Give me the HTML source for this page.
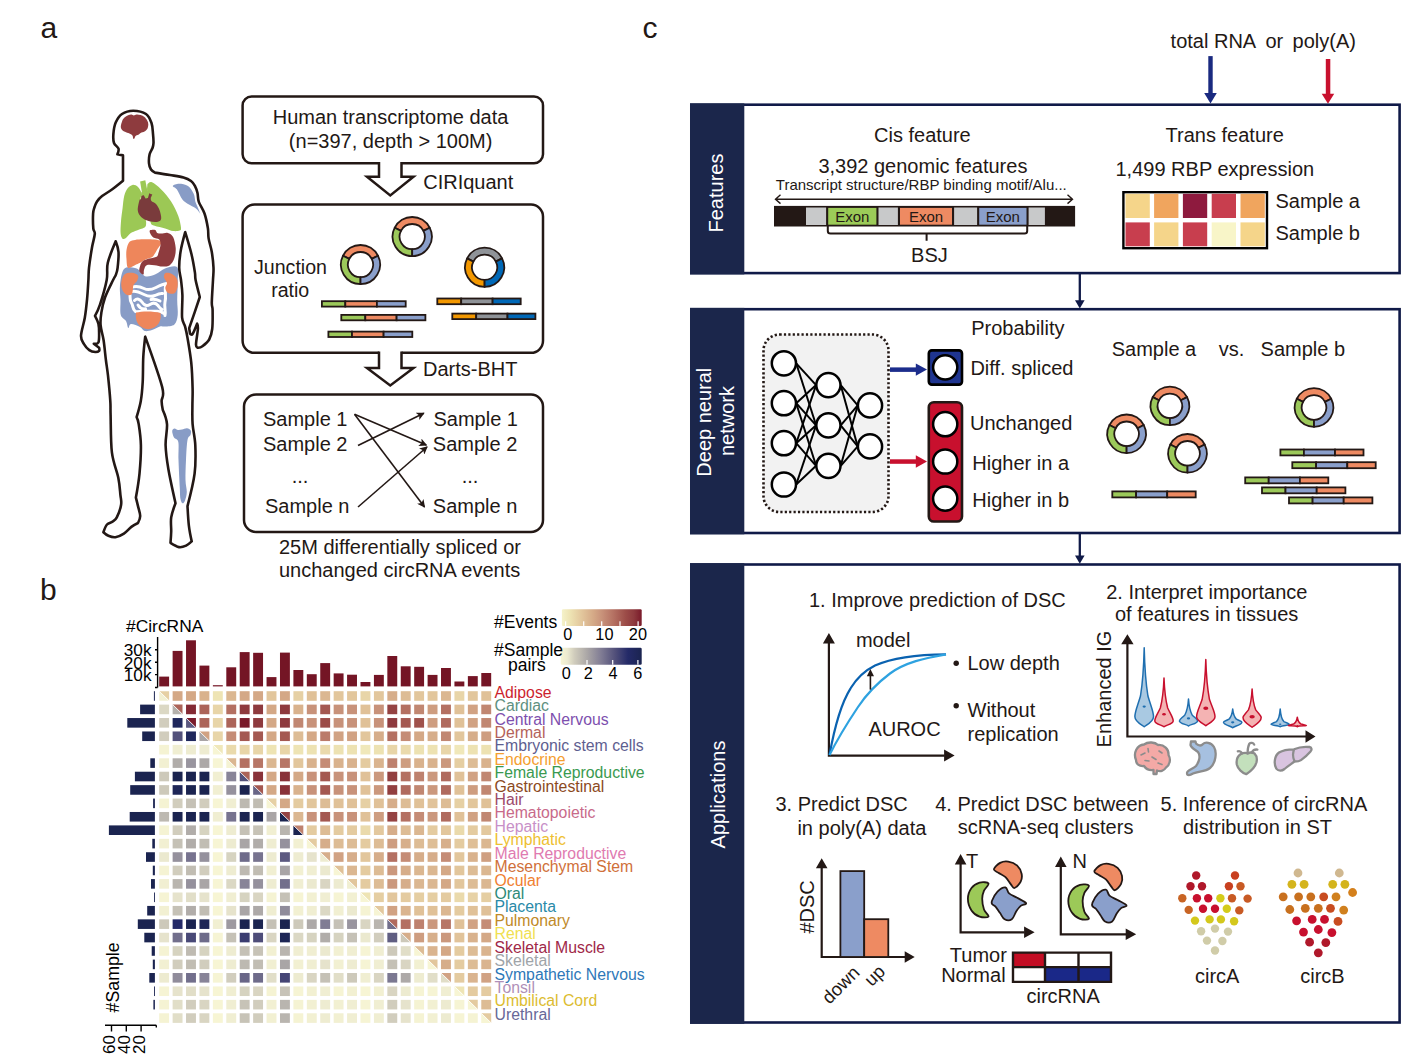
<!DOCTYPE html>
<html><head><meta charset="utf-8"><title>Figure</title>
<style>html,body{margin:0;padding:0;background:#fff;} svg{display:block;} text{font-family:"Liberation Sans", Arial, sans-serif;}</style>
</head><body>
<svg width="1426" height="1061" viewBox="0 0 1426 1061">
<rect width="1426" height="1061" fill="#fff"/>
<path d="M120.80,127.10 C120.73,125.50 121.58,122.58 122.20,121.00 C122.82,119.42 123.52,118.55 124.50,117.60 C125.48,116.65 126.93,115.80 128.10,115.30 C129.27,114.80 130.55,114.55 131.50,114.60 C132.45,114.65 132.97,115.60 133.80,115.60 C134.63,115.60 135.37,114.68 136.50,114.60 C137.63,114.52 139.27,114.70 140.60,115.10 C141.93,115.50 143.40,116.10 144.50,117.00 C145.60,117.90 146.57,119.28 147.20,120.50 C147.83,121.72 148.27,122.92 148.30,124.30 C148.33,125.68 148.03,127.58 147.40,128.80 C146.77,130.02 145.63,130.90 144.50,131.60 C143.37,132.30 141.63,132.47 140.60,133.00 C139.57,133.53 139.13,134.30 138.30,134.80 C137.47,135.30 136.25,135.37 135.60,136.00 C134.95,136.63 134.80,138.17 134.40,138.60 C134.00,139.03 133.50,139.07 133.20,138.60 C132.90,138.13 133.07,136.58 132.60,135.80 C132.13,135.02 131.50,134.48 130.40,133.90 C129.30,133.32 127.30,132.85 126.00,132.30 C124.70,131.75 123.47,131.47 122.60,130.60 C121.73,129.73 120.87,128.70 120.80,127.10 Z" fill="#8e3b3e"/>
<path d="M132.50,184.90 C130.75,185.15 128.88,186.63 127.50,188.50 C126.12,190.37 125.02,192.85 124.20,196.10 C123.38,199.35 123.13,203.82 122.60,208.00 C122.07,212.18 121.33,217.02 121.00,221.20 C120.67,225.38 120.38,230.22 120.60,233.10 C120.82,235.98 121.47,237.63 122.30,238.50 C123.13,239.37 124.18,239.20 125.60,238.30 C127.02,237.40 128.93,234.42 130.80,233.10 C132.67,231.78 134.60,231.28 136.80,230.40 C139.00,229.52 142.47,228.70 144.00,227.80 C145.53,226.90 145.75,226.47 146.00,225.00 C146.25,223.53 146.33,221.50 145.50,219.00 C144.67,216.50 141.80,213.48 141.00,210.00 C140.20,206.52 140.53,200.75 140.70,198.10 C140.87,195.45 142.45,195.95 142.00,194.10 C141.55,192.25 139.58,188.53 138.00,187.00 C136.42,185.47 134.25,184.65 132.50,184.90 Z" fill="#9cc855"/>
<path d="M148.00,183.60 C148.78,182.98 149.80,181.32 152.00,182.30 C154.20,183.28 158.02,186.32 161.20,189.50 C164.38,192.68 168.25,197.00 171.10,201.40 C173.95,205.80 176.65,211.50 178.30,215.90 C179.95,220.30 180.77,225.35 181.00,227.80 C181.23,230.25 181.02,230.05 179.70,230.60 C178.38,231.15 175.53,231.47 173.10,231.10 C170.67,230.73 168.18,229.28 165.10,228.40 C162.02,227.52 157.02,226.78 154.60,225.80 C152.18,224.82 151.37,225.13 150.60,222.50 C149.83,219.87 150.55,215.05 150.00,210.00 C149.45,204.95 147.75,196.20 147.30,192.20 C146.85,188.20 147.18,187.43 147.30,186.00 C147.42,184.57 147.22,184.22 148.00,183.60 Z" fill="#9cc855"/>
<path d="M140.1,181.5 L145.3,180.3 L148,194 L144.5,197.5 L142.5,196 Z" fill="#9cc855"/>
<path d="M141.5,192 L148.5,191 L149,199 L141,199.5 Z" fill="#9cc855"/>
<path d="M139.50,200.10 C138.98,202.00 137.48,207.75 137.80,210.60 C138.12,213.45 139.48,215.43 141.40,217.20 C143.32,218.97 146.55,220.43 149.30,221.20 C152.05,221.97 155.92,222.25 157.90,221.80 C159.88,221.35 160.93,220.47 161.20,218.50 C161.47,216.53 160.37,212.42 159.50,210.00 C158.63,207.58 157.35,205.50 156.00,204.00 C154.65,202.50 152.27,202.00 151.40,201.00 C150.53,200.00 150.80,198.00 150.80,198.00 C150.80,198.00 152.30,194.60 152.30,194.60 C152.30,194.60 149.30,193.30 149.30,193.30 C149.30,193.30 148.00,198.10 148.00,198.10 C148.00,198.10 145.60,198.60 145.60,198.60 C145.60,198.60 143.80,195.30 143.80,195.30 C143.80,195.30 141.40,195.90 141.40,195.90 C141.40,195.90 141.22,198.50 140.90,199.20 C140.58,199.90 140.02,198.20 139.50,200.10 Z" fill="#7a3b3c"/>
<path d="M172.80,185.90 C173.17,184.97 176.47,183.70 179.00,183.70 C181.53,183.70 185.55,184.22 188.00,185.90 C190.45,187.58 192.47,191.15 193.70,193.80 C194.93,196.45 194.78,199.68 195.40,201.80 C196.02,203.92 196.55,204.43 197.40,206.50 C198.25,208.57 200.50,214.20 200.50,214.20 C200.50,214.20 198.08,210.20 196.00,208.50 C193.92,206.80 190.27,205.50 188.00,204.00 C185.73,202.50 184.27,201.95 182.40,199.50 C180.53,197.05 178.40,191.57 176.80,189.30 C175.20,187.03 172.43,186.83 172.80,185.90 Z" fill="#889cc6"/>
<path d="M124.00,269.00 C126.50,266.17 132.33,267.67 135.00,268.00 C137.67,268.33 138.17,269.58 140.00,271.00 C141.83,272.42 143.33,276.00 146.00,276.50 C148.67,277.00 152.83,275.33 156.00,274.00 C159.17,272.67 161.50,269.67 165.00,268.50 C168.50,267.33 174.87,265.08 177.00,267.00 C179.13,268.92 177.77,274.50 177.80,280.00 C177.83,285.50 177.22,294.17 177.20,300.00 C177.18,305.83 178.17,310.93 177.70,315.00 C177.23,319.07 176.52,322.48 174.40,324.40 C172.28,326.32 167.42,326.17 165.00,326.50 C162.58,326.83 162.07,325.82 159.90,326.40 C157.73,326.98 154.53,329.23 152.00,330.00 C149.47,330.77 146.70,331.50 144.70,331.00 C142.70,330.50 142.28,328.17 140.00,327.00 C137.72,325.83 132.95,323.83 131.00,324.00 C129.05,324.17 129.13,328.50 128.30,328.00 C127.47,327.50 127.25,323.17 126.00,321.00 C124.75,318.83 121.72,318.50 120.80,315.00 C119.88,311.50 120.63,305.00 120.50,300.00 C120.37,295.00 119.42,290.17 120.00,285.00 C120.58,279.83 121.50,271.83 124.00,269.00 Z" fill="#889cc6"/>
<path d="M131,287.5 C136,285.5 140,286.5 144,288.5 C148,290.5 152,289.5 156,287.5 C160,285.5 163,284 166.5,283.5 M132,291.5 C136,290.5 140,292.5 144,294.5 C148,296.5 151,297 155,295.5 C158,294 160,293 162.5,293.5 M129.5,293 C131,297 129,300 131.5,303 C133.5,306 132,309 135.5,311.5 M165.5,286 C164.5,292 166.5,297 165,302 C164,307 166,311 165,315.5 M134.5,300.5 C137,298 140,299 142,302 C144,305 147,306.5 150,304.5 C153,302.5 156,303 158,305.5 C159.5,307.5 160.5,309 162,309.5 M136.5,311.8 C142,310.8 150,311.5 157,311.2 C160,311 162,312 164,313.5 M138,305 C139.5,307.5 142,309.5 145.5,308.8 M151,299.5 C154,299 157,299.5 160,301" fill="none" stroke="#fff" stroke-width="3" stroke-linecap="round" stroke-linejoin="round"/>
<path d="M125.00,274.00 C126.75,272.63 129.83,272.55 132.00,272.80 C134.17,273.05 137.17,274.13 138.00,275.50 C138.83,276.87 137.75,279.42 137.00,281.00 C136.25,282.58 134.20,283.50 133.50,285.00 C132.80,286.50 133.13,288.42 132.80,290.00 C132.47,291.58 132.63,293.75 131.50,294.50 C130.37,295.25 127.58,295.42 126.00,294.50 C124.42,293.58 122.75,291.25 122.00,289.00 C121.25,286.75 121.00,283.50 121.50,281.00 C122.00,278.50 123.25,275.37 125.00,274.00 Z" fill="#ee865b"/>
<path d="M165.50,273.00 C166.83,272.42 170.08,273.00 172.00,274.00 C173.92,275.00 176.08,276.83 177.00,279.00 C177.92,281.17 177.92,284.63 177.50,287.00 C177.08,289.37 176.08,292.20 174.50,293.20 C172.92,294.20 169.53,293.87 168.00,293.00 C166.47,292.13 165.47,289.67 165.30,288.00 C165.13,286.33 167.22,284.75 167.00,283.00 C166.78,281.25 164.25,279.17 164.00,277.50 C163.75,275.83 164.17,273.58 165.50,273.00 Z" fill="#ee865b"/>
<path d="M136,312.6 C142,311 154,311 160.5,313 C162,320 158,328.5 148.5,329.2 C139,329 134.5,321 136,312.6 Z" fill="#ee865b"/>
<path d="M129.00,242.50 C130.17,240.85 131.43,240.75 133.50,240.20 C135.57,239.65 137.88,239.32 141.40,239.20 C144.92,239.08 151.30,239.17 154.60,239.50 C157.90,239.83 160.22,240.32 161.20,241.20 C162.18,242.08 161.17,243.43 160.50,244.80 C159.83,246.17 158.18,247.87 157.20,249.40 C156.22,250.93 155.47,252.68 154.60,254.00 C153.73,255.32 153.43,256.42 152.00,257.30 C150.57,258.18 147.77,258.52 146.00,259.30 C144.23,260.08 143.05,261.12 141.40,262.00 C139.75,262.88 138.30,263.62 136.10,264.60 C133.90,265.58 129.80,268.78 128.20,267.90 C126.60,267.02 126.78,262.27 126.50,259.30 C126.22,256.33 126.08,252.90 126.50,250.10 C126.92,247.30 127.83,244.15 129.00,242.50 Z" fill="#ee865b"/>
<path d="M150.00,230.30 C150.82,229.68 154.00,229.47 155.20,229.90 C156.40,230.33 156.20,232.28 157.20,232.90 C158.20,233.52 159.43,233.60 161.20,233.60 C162.97,233.60 165.82,232.35 167.80,232.90 C169.78,233.45 171.78,234.37 173.10,236.90 C174.42,239.43 175.48,244.58 175.70,248.10 C175.92,251.62 175.38,255.15 174.40,258.00 C173.42,260.85 171.78,263.77 169.80,265.20 C167.82,266.63 165.03,266.60 162.50,266.60 C159.97,266.60 157.23,265.43 154.60,265.20 C151.97,264.97 148.47,264.42 146.70,265.20 C144.93,265.98 144.55,268.35 144.00,269.90 C143.45,271.45 144.17,274.28 143.40,274.50 C142.63,274.72 139.95,272.63 139.40,271.20 C138.85,269.77 139.55,267.55 140.10,265.90 C140.65,264.25 141.17,262.52 142.70,261.30 C144.23,260.08 146.98,259.37 149.30,258.60 C151.62,257.83 155.07,257.68 156.60,256.70 C158.13,255.72 157.85,254.68 158.50,252.70 C159.15,250.72 160.38,247.00 160.50,244.80 C160.62,242.60 160.40,240.72 159.20,239.50 C158.00,238.28 154.78,238.48 153.30,237.50 C151.82,236.52 150.85,234.80 150.30,233.60 C149.75,232.40 149.18,230.92 150.00,230.30 Z" fill="#8e3b3e"/>
<path d="M172.20,431.00 C172.28,429.52 173.53,428.77 174.50,428.60 C175.47,428.43 176.75,429.85 178.00,430.00 C179.25,430.15 180.50,429.80 182.00,429.50 C183.50,429.20 185.53,428.03 187.00,428.20 C188.47,428.37 190.22,429.37 190.80,430.50 C191.38,431.63 191.05,433.42 190.50,435.00 C189.95,436.58 188.25,435.83 187.50,440.00 C186.75,444.17 186.33,453.33 186.00,460.00 C185.67,466.67 185.37,474.67 185.50,480.00 C185.63,485.33 186.88,488.58 186.80,492.00 C186.72,495.42 185.70,498.62 185.00,500.50 C184.30,502.38 183.35,503.55 182.60,503.30 C181.85,503.05 180.97,501.55 180.50,499.00 C180.03,496.45 180.13,494.50 179.80,488.00 C179.47,481.50 178.75,467.67 178.50,460.00 C178.25,452.33 179.05,445.75 178.30,442.00 C177.55,438.25 175.02,439.33 174.00,437.50 C172.98,435.67 172.12,432.48 172.20,431.00 Z" fill="#889cc6"/>
<path d="M133.20,110.70 C137.20,110.70 142.95,111.95 146.00,114.00 C149.05,116.05 150.33,119.68 151.50,123.00 C152.67,126.32 152.67,130.57 153.00,133.90 C153.33,137.23 153.58,140.65 153.50,143.00 C153.42,145.35 153.15,146.12 152.50,148.00 C151.85,149.88 150.18,151.75 149.60,154.30 C149.02,156.85 148.77,160.77 149.00,163.30 C149.23,165.83 150.00,167.95 151.00,169.50 C152.00,171.05 155.00,172.60 155.00,172.60 C155.00,172.60 165.25,174.18 170.00,175.00 C174.75,175.82 180.00,176.50 183.50,177.50 C187.00,178.50 189.10,179.60 191.00,181.00 C192.90,182.40 193.82,183.90 194.90,185.90 C195.98,187.90 196.85,190.35 197.50,193.00 C198.15,195.65 197.63,198.38 198.80,201.80 C199.97,205.22 202.98,209.08 204.50,213.50 C206.02,217.92 207.22,224.15 207.90,228.30 C208.58,232.45 207.95,234.45 208.60,238.40 C209.25,242.35 210.98,247.10 211.80,252.00 C212.62,256.90 213.30,263.13 213.50,267.80 C213.70,272.47 213.28,274.20 213.00,280.00 C212.72,285.80 211.87,297.58 211.80,302.60 C211.73,307.62 212.53,305.70 212.60,310.10 C212.67,314.50 212.77,324.10 212.20,329.00 C211.63,333.90 210.83,336.62 209.20,339.50 C207.57,342.38 204.22,344.92 202.40,346.30 C200.58,347.68 198.30,347.80 198.30,347.80 C198.30,347.80 196.07,347.93 196.00,344.80 C195.93,341.67 197.72,332.52 197.90,329.00 C198.08,325.48 197.10,323.70 197.10,323.70 C197.10,323.70 193.78,332.27 192.60,333.90 C191.42,335.53 190.00,333.50 190.00,333.50 C190.00,333.50 189.20,328.20 189.20,328.20 C189.20,328.20 194.90,311.70 194.90,311.70 C194.90,311.70 199.80,297.00 199.80,297.00 C199.80,297.00 196.42,284.10 195.60,280.00 C194.78,275.90 195.58,276.68 194.90,272.40 C194.22,268.12 193.12,261.00 191.50,254.30 C189.88,247.60 185.20,232.20 185.20,232.20 C185.20,232.20 181.70,244.97 180.70,250.90 C179.70,256.83 179.15,262.95 179.20,267.80 C179.25,272.65 180.47,275.47 181.00,280.00 C181.53,284.53 182.22,288.72 182.40,295.00 C182.58,301.28 181.65,312.42 182.10,317.70 C182.55,322.98 184.20,323.33 185.10,326.70 C186.00,330.07 186.47,331.83 187.50,337.90 C188.53,343.97 190.45,354.68 191.30,363.10 C192.15,371.52 192.42,381.25 192.60,388.40 C192.78,395.55 192.40,400.05 192.40,406.00 C192.40,411.95 192.12,417.55 192.60,424.10 C193.08,430.65 194.97,437.05 195.30,445.30 C195.63,453.55 195.90,463.47 194.60,473.60 C193.30,483.73 187.50,506.10 187.50,506.10 C187.50,506.10 188.20,520.02 188.90,525.90 C189.60,531.78 191.70,541.40 191.70,541.40 C191.70,541.40 188.22,544.65 186.10,545.60 C183.98,546.55 181.60,547.57 179.00,547.10 C176.40,546.63 170.50,542.80 170.50,542.80 C170.50,542.80 171.08,535.73 171.20,531.50 C171.32,527.27 170.48,522.10 171.20,517.40 C171.92,512.70 175.50,503.30 175.50,503.30 C175.50,503.30 170.05,478.97 168.40,469.30 C166.75,459.63 165.83,452.83 165.60,445.30 C165.37,437.77 167.47,429.98 167.00,424.10 C166.53,418.22 162.80,410.00 162.80,410.00 C162.80,410.00 161.70,404.82 161.60,401.00 C161.50,397.18 164.93,397.83 162.20,387.10 C159.47,376.37 145.20,336.60 145.20,336.60 C145.20,336.60 143.72,349.23 143.30,356.80 C142.88,364.37 143.12,374.63 142.70,382.00 C142.28,389.37 141.82,395.15 140.80,401.00 C139.78,406.85 136.60,417.10 136.60,417.10 C136.60,417.10 137.98,419.40 138.70,424.10 C139.42,428.80 140.77,437.05 140.90,445.30 C141.03,453.55 140.33,464.88 139.50,473.60 C138.67,482.32 135.90,497.60 135.90,497.60 C135.90,497.60 137.28,503.03 138.00,506.10 C138.72,509.17 140.20,513.18 140.20,516.00 C140.20,518.82 138.00,523.00 138.00,523.00 C138.00,523.00 134.05,524.83 131.70,526.60 C129.35,528.37 126.62,531.83 123.90,533.60 C121.18,535.37 117.98,536.83 115.40,537.20 C112.82,537.57 110.40,536.63 108.40,535.80 C106.40,534.97 103.40,532.20 103.40,532.20 C103.40,532.20 105.47,526.27 107.00,524.50 C108.53,522.73 110.97,522.78 112.60,521.60 C114.23,520.42 115.38,520.22 116.80,517.40 C118.22,514.58 120.50,508.47 121.10,504.70 C121.70,500.93 120.87,499.28 120.40,494.80 C119.93,490.32 119.72,484.87 118.30,477.80 C116.88,470.73 113.18,462.87 111.90,452.40 C110.62,441.93 110.87,423.57 110.60,415.00 C110.33,406.43 110.73,407.55 110.30,401.00 C109.87,394.45 108.73,382.53 108.00,375.70 C107.27,368.87 106.63,365.90 105.90,360.00 C105.17,354.10 104.48,346.10 103.60,340.30 C102.72,334.50 100.97,329.85 100.60,325.20 C100.23,320.55 100.65,317.05 101.40,312.40 C102.15,307.75 103.15,302.70 105.10,297.30 C107.05,291.90 111.30,283.78 113.10,280.00 C114.90,276.22 115.15,276.63 115.90,274.60 C116.65,272.57 117.17,271.57 117.60,267.80 C118.03,264.03 118.82,256.42 118.50,252.00 C118.18,247.58 115.70,241.30 115.70,241.30 C115.70,241.30 109.30,256.35 107.80,262.80 C106.30,269.25 108.02,272.98 106.70,280.00 C105.38,287.02 101.85,298.93 99.90,304.90 C97.95,310.87 95.00,315.80 95.00,315.80 C95.00,315.80 97.72,320.87 98.40,323.70 C99.08,326.53 99.10,329.67 99.10,332.80 C99.10,335.93 99.28,340.68 98.40,342.50 C97.52,344.32 93.80,343.70 93.80,343.70 C93.80,343.70 99.10,347.80 99.10,347.80 C99.10,347.80 99.73,350.10 99.10,350.80 C98.47,351.50 96.93,352.12 95.30,352.00 C93.67,351.88 91.18,351.42 89.30,350.10 C87.42,348.78 85.38,346.48 84.00,344.10 C82.62,341.72 80.87,340.20 81.00,335.80 C81.13,331.40 83.78,323.87 84.80,317.70 C85.82,311.53 86.50,305.08 87.10,298.80 C87.70,292.52 88.08,285.17 88.40,280.00 C88.72,274.83 88.40,273.22 89.00,267.80 C89.60,262.38 91.03,253.15 92.00,247.50 C92.97,241.85 94.58,237.10 94.80,233.90 C95.02,230.70 93.58,231.68 93.30,228.30 C93.02,224.92 92.92,217.07 93.10,213.60 C93.28,210.13 93.75,209.52 94.40,207.50 C95.05,205.48 95.72,203.40 97.00,201.50 C98.28,199.60 99.55,198.13 102.10,196.10 C104.65,194.07 108.82,191.85 112.30,189.30 C115.78,186.75 123.00,180.80 123.00,180.80 C123.00,180.80 123.00,155.40 123.00,155.40 C123.00,155.40 117.40,154.30 117.40,154.30 C117.40,154.30 119.07,150.48 118.50,148.60 C117.93,146.72 114.85,145.45 114.00,143.00 C113.15,140.55 113.12,137.30 113.40,133.90 C113.68,130.50 114.27,125.92 115.70,122.60 C117.13,119.28 119.08,115.98 122.00,114.00 C124.92,112.02 129.20,110.70 133.20,110.70 Z" fill="none" stroke="#231815" stroke-width="2.6" stroke-linejoin="round"/>
<text x="40.50" y="37.50" font-size="30" text-anchor="start" fill="#231815" >a</text>
<rect x="242.6" y="96.5" width="300.4" height="66.80000000000001" rx="9" ry="9" fill="#fff" stroke="#231815" stroke-width="2.5"/>
<rect x="242.6" y="204.5" width="300.4" height="148.3" rx="12" ry="12" fill="#fff" stroke="#231815" stroke-width="2.5"/>
<rect x="244" y="394.5" width="299" height="137.5" rx="12" ry="12" fill="#fff" stroke="#231815" stroke-width="2.5"/>
<rect x="379" y="159" width="22.5" height="6" fill="#fff"/>
<path d="M379,162 L379,176.8 L367,176.8 L390.25,195.5 L413.5,176.8 L401.5,176.8 L401.5,162" fill="#fff" stroke="#231815" stroke-width="2.5" stroke-linejoin="miter"/>
<rect x="379" y="348.5" width="22.5" height="6" fill="#fff"/>
<path d="M379,351.5 L379,368 L367,368 L390.25,385.5 L413.5,368 L401.5,368 L401.5,351.5" fill="#fff" stroke="#231815" stroke-width="2.5" stroke-linejoin="miter"/>
<text x="390.60" y="123.80" font-size="20" text-anchor="middle" fill="#231815" >Human transcriptome data</text>
<text x="390.60" y="147.80" font-size="20" text-anchor="middle" fill="#231815" >(n=397, depth &gt; 100M)</text>
<text x="423.20" y="188.90" font-size="20" text-anchor="start" fill="#231815" >CIRIquant</text>
<text x="423.00" y="375.80" font-size="20" text-anchor="start" fill="#231815" >Darts-BHT</text>
<text x="254.00" y="273.70" font-size="19.6" text-anchor="start" fill="#231815" >Junction</text>
<text x="290.20" y="297.20" font-size="19.6" text-anchor="middle" fill="#231815" >ratio</text>
<path d="M377.96,255.70 A19.6,19.6 0 0 0 343.04,255.70 L349.27,258.88 A12.6,12.6 0 0 1 371.73,258.88 Z" fill="#ee8a62" stroke="#231815" stroke-width="1.8" stroke-linejoin="round"/>
<path d="M343.04,255.70 A19.6,19.6 0 0 0 360.50,284.20 L360.50,277.20 A12.6,12.6 0 0 1 349.27,258.88 Z" fill="#9cc95a" stroke="#231815" stroke-width="1.8" stroke-linejoin="round"/>
<path d="M360.50,284.20 A19.6,19.6 0 0 0 377.96,255.70 L371.73,258.88 A12.6,12.6 0 0 1 360.50,277.20 Z" fill="#8a9fcb" stroke="#231815" stroke-width="1.8" stroke-linejoin="round"/>
<path d="M429.66,227.70 A19.6,19.6 0 0 0 394.74,227.70 L400.97,230.88 A12.6,12.6 0 0 1 423.43,230.88 Z" fill="#ee8a62" stroke="#231815" stroke-width="1.8" stroke-linejoin="round"/>
<path d="M394.74,227.70 A19.6,19.6 0 0 0 412.20,256.20 L412.20,249.20 A12.6,12.6 0 0 1 400.97,230.88 Z" fill="#9cc95a" stroke="#231815" stroke-width="1.8" stroke-linejoin="round"/>
<path d="M412.20,256.20 A19.6,19.6 0 0 0 429.66,227.70 L423.43,230.88 A12.6,12.6 0 0 1 412.20,249.20 Z" fill="#8a9fcb" stroke="#231815" stroke-width="1.8" stroke-linejoin="round"/>
<path d="M502.06,258.40 A19.6,19.6 0 0 0 467.14,258.40 L473.37,261.58 A12.6,12.6 0 0 1 495.83,261.58 Z" fill="#8f9398" stroke="#231815" stroke-width="1.8" stroke-linejoin="round"/>
<path d="M467.14,258.40 A19.6,19.6 0 0 0 484.60,286.90 L484.60,279.90 A12.6,12.6 0 0 1 473.37,261.58 Z" fill="#f39800" stroke="#231815" stroke-width="1.8" stroke-linejoin="round"/>
<path d="M484.60,286.90 A19.6,19.6 0 0 0 502.06,258.40 L495.83,261.58 A12.6,12.6 0 0 1 484.60,279.90 Z" fill="#0068b7" stroke="#231815" stroke-width="1.8" stroke-linejoin="round"/>
<rect x="321.90" y="301.20" width="23.40" height="5.40" fill="#9cc95a" stroke="#231815" stroke-width="1.8"/>
<rect x="345.30" y="301.20" width="31.60" height="5.40" fill="#ee8a62" stroke="#231815" stroke-width="1.8"/>
<rect x="376.90" y="301.20" width="28.80" height="5.40" fill="#8a9fcb" stroke="#231815" stroke-width="1.8"/>
<rect x="341.30" y="314.90" width="24.00" height="5.40" fill="#9cc95a" stroke="#231815" stroke-width="1.8"/>
<rect x="365.30" y="314.90" width="31.30" height="5.40" fill="#ee8a62" stroke="#231815" stroke-width="1.8"/>
<rect x="396.60" y="314.90" width="28.80" height="5.40" fill="#8a9fcb" stroke="#231815" stroke-width="1.8"/>
<rect x="328.40" y="331.60" width="23.60" height="5.40" fill="#9cc95a" stroke="#231815" stroke-width="1.8"/>
<rect x="352.00" y="331.60" width="31.60" height="5.40" fill="#ee8a62" stroke="#231815" stroke-width="1.8"/>
<rect x="383.60" y="331.60" width="28.70" height="5.40" fill="#8a9fcb" stroke="#231815" stroke-width="1.8"/>
<rect x="437.30" y="298.50" width="23.90" height="5.70" fill="#f39800" stroke="#231815" stroke-width="1.8"/>
<rect x="461.20" y="298.50" width="31.40" height="5.70" fill="#8f9398" stroke="#231815" stroke-width="1.8"/>
<rect x="492.60" y="298.50" width="28.10" height="5.70" fill="#0068b7" stroke="#231815" stroke-width="1.8"/>
<rect x="452.30" y="313.60" width="23.90" height="5.50" fill="#f39800" stroke="#231815" stroke-width="1.8"/>
<rect x="476.20" y="313.60" width="31.30" height="5.50" fill="#8f9398" stroke="#231815" stroke-width="1.8"/>
<rect x="507.50" y="313.60" width="27.90" height="5.50" fill="#0068b7" stroke="#231815" stroke-width="1.8"/>
<text x="263.00" y="426.00" font-size="20" text-anchor="start" fill="#231815" >Sample 1</text>
<text x="263.00" y="451.25" font-size="20" text-anchor="start" fill="#231815" >Sample 2</text>
<text x="265.00" y="512.50" font-size="20" text-anchor="start" fill="#231815" >Sample n</text>
<text x="433.50" y="426.00" font-size="20" text-anchor="start" fill="#231815" >Sample 1</text>
<text x="432.80" y="451.25" font-size="20" text-anchor="start" fill="#231815" >Sample 2</text>
<text x="432.80" y="512.50" font-size="20" text-anchor="start" fill="#231815" >Sample n</text>
<text x="300.00" y="483.00" font-size="20" text-anchor="middle" fill="#231815" >...</text>
<text x="470.00" y="483.00" font-size="20" text-anchor="middle" fill="#231815" >...</text>
<defs><marker id="ah" markerWidth="8" markerHeight="8" refX="7" refY="4" orient="auto" markerUnits="userSpaceOnUse"><path d="M0,0 L8,4 L0,8 L2,4 Z" fill="#231815"/></marker></defs>
<line x1="354.5" y1="414.3" x2="426.3" y2="445" stroke="#231815" stroke-width="1.6" marker-end="url(#ah)"/>
<line x1="354.5" y1="414.3" x2="424.5" y2="507" stroke="#231815" stroke-width="1.6" marker-end="url(#ah)"/>
<line x1="358" y1="445.5" x2="423.8" y2="413.3" stroke="#231815" stroke-width="1.6" marker-end="url(#ah)"/>
<line x1="358" y1="507" x2="427" y2="447" stroke="#231815" stroke-width="1.6" marker-end="url(#ah)"/>
<text x="279.00" y="553.75" font-size="20" text-anchor="start" fill="#231815" >25M differentially spliced or</text>
<text x="279.00" y="577.00" font-size="20" text-anchor="start" fill="#231815" >unchanged circRNA events</text>
<text x="40.00" y="599.50" font-size="30" text-anchor="start" fill="#231815" >b</text>
<path d="M159.20,691.20 H169.10 V700.80 Z" fill="#e6d0a4"/><path d="M159.20,691.20 L169.10,700.80 H159.20 Z" fill="#f2f0d2"/><line x1="159.20" y1="691.20" x2="169.10" y2="700.80" stroke="#fff" stroke-width="0.8"/><rect x="172.62" y="691.20" width="9.9" height="9.6" fill="#d4a886"/><rect x="186.04" y="691.20" width="9.9" height="9.6" fill="#d4a886"/><rect x="199.46" y="691.20" width="9.9" height="9.6" fill="#d9b28d"/><rect x="212.88" y="691.20" width="9.9" height="9.6" fill="#eee4b4"/><rect x="226.30" y="691.20" width="9.9" height="9.6" fill="#dbb791"/><rect x="239.72" y="691.20" width="9.9" height="9.6" fill="#d4a886"/><rect x="253.14" y="691.20" width="9.9" height="9.6" fill="#d4a886"/><rect x="266.56" y="691.20" width="9.9" height="9.6" fill="#e2c69c"/><rect x="279.98" y="691.20" width="9.9" height="9.6" fill="#d4a886"/><rect x="293.40" y="691.20" width="9.9" height="9.6" fill="#e6d0a4"/><rect x="306.82" y="691.20" width="9.9" height="9.6" fill="#e0c198"/><rect x="320.24" y="691.20" width="9.9" height="9.6" fill="#dbb791"/><rect x="333.66" y="691.20" width="9.9" height="9.6" fill="#e2c69c"/><rect x="347.08" y="691.20" width="9.9" height="9.6" fill="#e2c69c"/><rect x="360.50" y="691.20" width="9.9" height="9.6" fill="#e8d5a8"/><rect x="373.92" y="691.20" width="9.9" height="9.6" fill="#e2c69c"/><rect x="387.34" y="691.20" width="9.9" height="9.6" fill="#d6ad8a"/><rect x="400.76" y="691.20" width="9.9" height="9.6" fill="#ddbc95"/><rect x="414.18" y="691.20" width="9.9" height="9.6" fill="#e2c69c"/><rect x="427.60" y="691.20" width="9.9" height="9.6" fill="#e2c69c"/><rect x="441.02" y="691.20" width="9.9" height="9.6" fill="#dbb791"/><rect x="454.44" y="691.20" width="9.9" height="9.6" fill="#e8d5a8"/><rect x="467.86" y="691.20" width="9.9" height="9.6" fill="#e2c69c"/><rect x="481.28" y="691.20" width="9.9" height="9.6" fill="#e0c198"/><rect x="159.20" y="704.62" width="9.9" height="9.6" fill="#dbd8c4"/><path d="M172.62,704.62 H182.52 V714.22 Z" fill="#ac6459"/><path d="M172.62,704.62 L182.52,714.22 H172.62 Z" fill="#b5b1ac"/><line x1="172.62" y1="704.62" x2="182.52" y2="714.22" stroke="#fff" stroke-width="0.8"/><rect x="186.04" y="704.62" width="9.9" height="9.6" fill="#842a34"/><rect x="199.46" y="704.62" width="9.9" height="9.6" fill="#ac6459"/><rect x="212.88" y="704.62" width="9.9" height="9.6" fill="#e8d5a8"/><rect x="226.30" y="704.62" width="9.9" height="9.6" fill="#b47062"/><rect x="239.72" y="704.62" width="9.9" height="9.6" fill="#8e3a3e"/><rect x="253.14" y="704.62" width="9.9" height="9.6" fill="#8e3a3e"/><rect x="266.56" y="704.62" width="9.9" height="9.6" fill="#d4a886"/><rect x="279.98" y="704.62" width="9.9" height="9.6" fill="#8e3a3e"/><rect x="293.40" y="704.62" width="9.9" height="9.6" fill="#d9b28d"/><rect x="306.82" y="704.62" width="9.9" height="9.6" fill="#c8927a"/><rect x="320.24" y="704.62" width="9.9" height="9.6" fill="#a45851"/><rect x="333.66" y="704.62" width="9.9" height="9.6" fill="#c8927a"/><rect x="347.08" y="704.62" width="9.9" height="9.6" fill="#c8927a"/><rect x="360.50" y="704.62" width="9.9" height="9.6" fill="#e0c198"/><rect x="373.92" y="704.62" width="9.9" height="9.6" fill="#c8927a"/><rect x="387.34" y="704.62" width="9.9" height="9.6" fill="#954343"/><rect x="400.76" y="704.62" width="9.9" height="9.6" fill="#b47062"/><rect x="414.18" y="704.62" width="9.9" height="9.6" fill="#c18772"/><rect x="427.60" y="704.62" width="9.9" height="9.6" fill="#ce9d80"/><rect x="441.02" y="704.62" width="9.9" height="9.6" fill="#b47062"/><rect x="454.44" y="704.62" width="9.9" height="9.6" fill="#e0c198"/><rect x="467.86" y="704.62" width="9.9" height="9.6" fill="#d1a283"/><rect x="481.28" y="704.62" width="9.9" height="9.6" fill="#c18772"/><rect x="159.20" y="718.04" width="9.9" height="9.6" fill="#d1cdbd"/><rect x="172.62" y="718.04" width="9.9" height="9.6" fill="#1f275c"/><path d="M186.04,718.04 H195.94 V727.64 Z" fill="#7a1a2a"/><path d="M186.04,718.04 L195.94,727.64 H186.04 Z" fill="#5c5980"/><line x1="186.04" y1="718.04" x2="195.94" y2="727.64" stroke="#fff" stroke-width="0.8"/><rect x="199.46" y="718.04" width="9.9" height="9.6" fill="#ac6459"/><rect x="212.88" y="718.04" width="9.9" height="9.6" fill="#e8d5a8"/><rect x="226.30" y="718.04" width="9.9" height="9.6" fill="#ac6459"/><rect x="239.72" y="718.04" width="9.9" height="9.6" fill="#7a1a2a"/><rect x="253.14" y="718.04" width="9.9" height="9.6" fill="#8e3a3e"/><rect x="266.56" y="718.04" width="9.9" height="9.6" fill="#d4a886"/><rect x="279.98" y="718.04" width="9.9" height="9.6" fill="#8e3a3e"/><rect x="293.40" y="718.04" width="9.9" height="9.6" fill="#c18772"/><rect x="306.82" y="718.04" width="9.9" height="9.6" fill="#c8927a"/><rect x="320.24" y="718.04" width="9.9" height="9.6" fill="#9c4c48"/><rect x="333.66" y="718.04" width="9.9" height="9.6" fill="#c8927a"/><rect x="347.08" y="718.04" width="9.9" height="9.6" fill="#c8927a"/><rect x="360.50" y="718.04" width="9.9" height="9.6" fill="#e0c198"/><rect x="373.92" y="718.04" width="9.9" height="9.6" fill="#c8927a"/><rect x="387.34" y="718.04" width="9.9" height="9.6" fill="#8e3a3e"/><rect x="400.76" y="718.04" width="9.9" height="9.6" fill="#a45851"/><rect x="414.18" y="718.04" width="9.9" height="9.6" fill="#a0524c"/><rect x="427.60" y="718.04" width="9.9" height="9.6" fill="#ce9d80"/><rect x="441.02" y="718.04" width="9.9" height="9.6" fill="#b06a5e"/><rect x="454.44" y="718.04" width="9.9" height="9.6" fill="#e0c198"/><rect x="467.86" y="718.04" width="9.9" height="9.6" fill="#d1a283"/><rect x="481.28" y="718.04" width="9.9" height="9.6" fill="#c18772"/><rect x="159.20" y="731.46" width="9.9" height="9.6" fill="#d1cdbd"/><rect x="172.62" y="731.46" width="9.9" height="9.6" fill="#53517b"/><rect x="186.04" y="731.46" width="9.9" height="9.6" fill="#1f275c"/><path d="M199.46,731.46 H209.36 V741.06 Z" fill="#d1a283"/><path d="M199.46,731.46 L209.36,741.06 H199.46 Z" fill="#a9a5a6"/><line x1="199.46" y1="731.46" x2="209.36" y2="741.06" stroke="#fff" stroke-width="0.8"/><rect x="212.88" y="731.46" width="9.9" height="9.6" fill="#e8d5a8"/><rect x="226.30" y="731.46" width="9.9" height="9.6" fill="#c58c76"/><rect x="239.72" y="731.46" width="9.9" height="9.6" fill="#a45851"/><rect x="253.14" y="731.46" width="9.9" height="9.6" fill="#a45851"/><rect x="266.56" y="731.46" width="9.9" height="9.6" fill="#d4a886"/><rect x="279.98" y="731.46" width="9.9" height="9.6" fill="#a45851"/><rect x="293.40" y="731.46" width="9.9" height="9.6" fill="#ddbc95"/><rect x="306.82" y="731.46" width="9.9" height="9.6" fill="#d4a886"/><rect x="320.24" y="731.46" width="9.9" height="9.6" fill="#bb7b6a"/><rect x="333.66" y="731.46" width="9.9" height="9.6" fill="#d1a283"/><rect x="347.08" y="731.46" width="9.9" height="9.6" fill="#d1a283"/><rect x="360.50" y="731.46" width="9.9" height="9.6" fill="#e2c69c"/><rect x="373.92" y="731.46" width="9.9" height="9.6" fill="#d6ad8a"/><rect x="387.34" y="731.46" width="9.9" height="9.6" fill="#b47062"/><rect x="400.76" y="731.46" width="9.9" height="9.6" fill="#c58c76"/><rect x="414.18" y="731.46" width="9.9" height="9.6" fill="#d4a886"/><rect x="427.60" y="731.46" width="9.9" height="9.6" fill="#d6ad8a"/><rect x="441.02" y="731.46" width="9.9" height="9.6" fill="#c18772"/><rect x="454.44" y="731.46" width="9.9" height="9.6" fill="#e2c69c"/><rect x="467.86" y="731.46" width="9.9" height="9.6" fill="#d6ad8a"/><rect x="481.28" y="731.46" width="9.9" height="9.6" fill="#ce9d80"/><rect x="159.20" y="744.88" width="9.9" height="9.6" fill="#f5f3d3"/><rect x="172.62" y="744.88" width="9.9" height="9.6" fill="#f0eed2"/><rect x="186.04" y="744.88" width="9.9" height="9.6" fill="#eeecd1"/><rect x="199.46" y="744.88" width="9.9" height="9.6" fill="#eeecd1"/><path d="M212.88,744.88 H222.78 V754.48 Z" fill="#f0e8ba"/><path d="M212.88,744.88 L222.78,754.48 H212.88 Z" fill="#f7f5d4"/><line x1="212.88" y1="744.88" x2="222.78" y2="754.48" stroke="#fff" stroke-width="0.8"/><rect x="226.30" y="744.88" width="9.9" height="9.6" fill="#eadaac"/><rect x="239.72" y="744.88" width="9.9" height="9.6" fill="#e8d5a8"/><rect x="253.14" y="744.88" width="9.9" height="9.6" fill="#e8d5a8"/><rect x="266.56" y="744.88" width="9.9" height="9.6" fill="#eee4b4"/><rect x="279.98" y="744.88" width="9.9" height="9.6" fill="#e8d5a8"/><rect x="293.40" y="744.88" width="9.9" height="9.6" fill="#eee4b4"/><rect x="306.82" y="744.88" width="9.9" height="9.6" fill="#ede2b2"/><rect x="320.24" y="744.88" width="9.9" height="9.6" fill="#eadaac"/><rect x="333.66" y="744.88" width="9.9" height="9.6" fill="#ede2b2"/><rect x="347.08" y="744.88" width="9.9" height="9.6" fill="#ede2b2"/><rect x="360.50" y="744.88" width="9.9" height="9.6" fill="#f0e8ba"/><rect x="373.92" y="744.88" width="9.9" height="9.6" fill="#ede2b2"/><rect x="387.34" y="744.88" width="9.9" height="9.6" fill="#e8d5a8"/><rect x="400.76" y="744.88" width="9.9" height="9.6" fill="#eadaac"/><rect x="414.18" y="744.88" width="9.9" height="9.6" fill="#ede2b2"/><rect x="427.60" y="744.88" width="9.9" height="9.6" fill="#ede2b2"/><rect x="441.02" y="744.88" width="9.9" height="9.6" fill="#e8d5a8"/><rect x="454.44" y="744.88" width="9.9" height="9.6" fill="#f0e8ba"/><rect x="467.86" y="744.88" width="9.9" height="9.6" fill="#ede2b2"/><rect x="481.28" y="744.88" width="9.9" height="9.6" fill="#ede2b2"/><rect x="159.20" y="758.30" width="9.9" height="9.6" fill="#f2f0d2"/><rect x="172.62" y="758.30" width="9.9" height="9.6" fill="#b1adaa"/><rect x="186.04" y="758.30" width="9.9" height="9.6" fill="#99959f"/><rect x="199.46" y="758.30" width="9.9" height="9.6" fill="#ada9a8"/><rect x="212.88" y="758.30" width="9.9" height="9.6" fill="#f7f5d4"/><path d="M226.30,758.30 H236.20 V767.90 Z" fill="#dbb791"/><path d="M226.30,758.30 L236.20,767.90 H226.30 Z" fill="#f5f3d3"/><line x1="226.30" y1="758.30" x2="236.20" y2="767.90" stroke="#fff" stroke-width="0.8"/><rect x="239.72" y="758.30" width="9.9" height="9.6" fill="#b47062"/><rect x="253.14" y="758.30" width="9.9" height="9.6" fill="#b77666"/><rect x="266.56" y="758.30" width="9.9" height="9.6" fill="#dbb791"/><rect x="279.98" y="758.30" width="9.9" height="9.6" fill="#b77666"/><rect x="293.40" y="758.30" width="9.9" height="9.6" fill="#e2c69c"/><rect x="306.82" y="758.30" width="9.9" height="9.6" fill="#d9b28d"/><rect x="320.24" y="758.30" width="9.9" height="9.6" fill="#c58c76"/><rect x="333.66" y="758.30" width="9.9" height="9.6" fill="#d9b28d"/><rect x="347.08" y="758.30" width="9.9" height="9.6" fill="#d9b28d"/><rect x="360.50" y="758.30" width="9.9" height="9.6" fill="#e4cba0"/><rect x="373.92" y="758.30" width="9.9" height="9.6" fill="#dab48f"/><rect x="387.34" y="758.30" width="9.9" height="9.6" fill="#be816e"/><rect x="400.76" y="758.30" width="9.9" height="9.6" fill="#ce9d80"/><rect x="414.18" y="758.30" width="9.9" height="9.6" fill="#d9b28d"/><rect x="427.60" y="758.30" width="9.9" height="9.6" fill="#d9b28d"/><rect x="441.02" y="758.30" width="9.9" height="9.6" fill="#cb987d"/><rect x="454.44" y="758.30" width="9.9" height="9.6" fill="#e5cea2"/><rect x="467.86" y="758.30" width="9.9" height="9.6" fill="#ddbc95"/><rect x="481.28" y="758.30" width="9.9" height="9.6" fill="#d9b28d"/><rect x="159.20" y="771.72" width="9.9" height="9.6" fill="#cdc9ba"/><rect x="172.62" y="771.72" width="9.9" height="9.6" fill="#1b2450"/><rect x="186.04" y="771.72" width="9.9" height="9.6" fill="#1b2450"/><rect x="199.46" y="771.72" width="9.9" height="9.6" fill="#1b2450"/><rect x="212.88" y="771.72" width="9.9" height="9.6" fill="#f1efd2"/><rect x="226.30" y="771.72" width="9.9" height="9.6" fill="#888498"/><path d="M239.72,771.72 H249.62 V781.32 Z" fill="#ac6459"/><path d="M239.72,771.72 L249.62,781.32 H239.72 Z" fill="#53517b"/><line x1="239.72" y1="771.72" x2="249.62" y2="781.32" stroke="#fff" stroke-width="0.8"/><rect x="253.14" y="771.72" width="9.9" height="9.6" fill="#893239"/><rect x="266.56" y="771.72" width="9.9" height="9.6" fill="#d4a886"/><rect x="279.98" y="771.72" width="9.9" height="9.6" fill="#893239"/><rect x="293.40" y="771.72" width="9.9" height="9.6" fill="#d4a886"/><rect x="306.82" y="771.72" width="9.9" height="9.6" fill="#c8927a"/><rect x="320.24" y="771.72" width="9.9" height="9.6" fill="#a45851"/><rect x="333.66" y="771.72" width="9.9" height="9.6" fill="#c8927a"/><rect x="347.08" y="771.72" width="9.9" height="9.6" fill="#c8927a"/><rect x="360.50" y="771.72" width="9.9" height="9.6" fill="#e0c198"/><rect x="373.92" y="771.72" width="9.9" height="9.6" fill="#cb987d"/><rect x="387.34" y="771.72" width="9.9" height="9.6" fill="#923f40"/><rect x="400.76" y="771.72" width="9.9" height="9.6" fill="#b47062"/><rect x="414.18" y="771.72" width="9.9" height="9.6" fill="#be816e"/><rect x="427.60" y="771.72" width="9.9" height="9.6" fill="#cb987d"/><rect x="441.02" y="771.72" width="9.9" height="9.6" fill="#b06a5e"/><rect x="454.44" y="771.72" width="9.9" height="9.6" fill="#e0c198"/><rect x="467.86" y="771.72" width="9.9" height="9.6" fill="#d1a283"/><rect x="481.28" y="771.72" width="9.9" height="9.6" fill="#c18772"/><rect x="159.20" y="785.14" width="9.9" height="9.6" fill="#cdc9ba"/><rect x="172.62" y="785.14" width="9.9" height="9.6" fill="#1e2657"/><rect x="186.04" y="785.14" width="9.9" height="9.6" fill="#1b2450"/><rect x="199.46" y="785.14" width="9.9" height="9.6" fill="#1b2450"/><rect x="212.88" y="785.14" width="9.9" height="9.6" fill="#f1efd2"/><rect x="226.30" y="785.14" width="9.9" height="9.6" fill="#95919d"/><rect x="239.72" y="785.14" width="9.9" height="9.6" fill="#1b2450"/><path d="M253.14,785.14 H263.04 V794.74 Z" fill="#a45851"/><path d="M253.14,785.14 L263.04,794.74 H253.14 Z" fill="#696687"/><line x1="253.14" y1="785.14" x2="263.04" y2="794.74" stroke="#fff" stroke-width="0.8"/><rect x="266.56" y="785.14" width="9.9" height="9.6" fill="#d4a886"/><rect x="279.98" y="785.14" width="9.9" height="9.6" fill="#893239"/><rect x="293.40" y="785.14" width="9.9" height="9.6" fill="#d9b28d"/><rect x="306.82" y="785.14" width="9.9" height="9.6" fill="#c8927a"/><rect x="320.24" y="785.14" width="9.9" height="9.6" fill="#a45851"/><rect x="333.66" y="785.14" width="9.9" height="9.6" fill="#c8927a"/><rect x="347.08" y="785.14" width="9.9" height="9.6" fill="#c8927a"/><rect x="360.50" y="785.14" width="9.9" height="9.6" fill="#e0c198"/><rect x="373.92" y="785.14" width="9.9" height="9.6" fill="#cb987d"/><rect x="387.34" y="785.14" width="9.9" height="9.6" fill="#923f40"/><rect x="400.76" y="785.14" width="9.9" height="9.6" fill="#b06a5e"/><rect x="414.18" y="785.14" width="9.9" height="9.6" fill="#c18772"/><rect x="427.60" y="785.14" width="9.9" height="9.6" fill="#cb987d"/><rect x="441.02" y="785.14" width="9.9" height="9.6" fill="#b06a5e"/><rect x="454.44" y="785.14" width="9.9" height="9.6" fill="#e0c198"/><rect x="467.86" y="785.14" width="9.9" height="9.6" fill="#ce9d80"/><rect x="481.28" y="785.14" width="9.9" height="9.6" fill="#c18772"/><rect x="159.20" y="798.56" width="9.9" height="9.6" fill="#f5f3d3"/><rect x="172.62" y="798.56" width="9.9" height="9.6" fill="#d1cdbd"/><rect x="186.04" y="798.56" width="9.9" height="9.6" fill="#c5c1b6"/><rect x="199.46" y="798.56" width="9.9" height="9.6" fill="#d1cdbd"/><rect x="212.88" y="798.56" width="9.9" height="9.6" fill="#f7f5d4"/><rect x="226.30" y="798.56" width="9.9" height="9.6" fill="#f0eed2"/><rect x="239.72" y="798.56" width="9.9" height="9.6" fill="#bdb9b1"/><rect x="253.14" y="798.56" width="9.9" height="9.6" fill="#c1bdb3"/><path d="M266.56,798.56 H276.46 V808.16 Z" fill="#e6d0a4"/><path d="M266.56,798.56 L276.46,808.16 H266.56 Z" fill="#f7f5d4"/><line x1="266.56" y1="798.56" x2="276.46" y2="808.16" stroke="#fff" stroke-width="0.8"/><rect x="279.98" y="798.56" width="9.9" height="9.6" fill="#d4a886"/><rect x="293.40" y="798.56" width="9.9" height="9.6" fill="#e4cba0"/><rect x="306.82" y="798.56" width="9.9" height="9.6" fill="#e2c69c"/><rect x="320.24" y="798.56" width="9.9" height="9.6" fill="#ddbc95"/><rect x="333.66" y="798.56" width="9.9" height="9.6" fill="#e0c198"/><rect x="347.08" y="798.56" width="9.9" height="9.6" fill="#e0c198"/><rect x="360.50" y="798.56" width="9.9" height="9.6" fill="#e6d0a4"/><rect x="373.92" y="798.56" width="9.9" height="9.6" fill="#e0c198"/><rect x="387.34" y="798.56" width="9.9" height="9.6" fill="#d6ad8a"/><rect x="400.76" y="798.56" width="9.9" height="9.6" fill="#ddbc95"/><rect x="414.18" y="798.56" width="9.9" height="9.6" fill="#e0c198"/><rect x="427.60" y="798.56" width="9.9" height="9.6" fill="#e1c39a"/><rect x="441.02" y="798.56" width="9.9" height="9.6" fill="#ddbc95"/><rect x="454.44" y="798.56" width="9.9" height="9.6" fill="#e6d0a4"/><rect x="467.86" y="798.56" width="9.9" height="9.6" fill="#e2c69c"/><rect x="481.28" y="798.56" width="9.9" height="9.6" fill="#e0c198"/><rect x="159.20" y="811.98" width="9.9" height="9.6" fill="#bdb9b1"/><rect x="172.62" y="811.98" width="9.9" height="9.6" fill="#1b2450"/><rect x="186.04" y="811.98" width="9.9" height="9.6" fill="#1b2450"/><rect x="199.46" y="811.98" width="9.9" height="9.6" fill="#1b2450"/><rect x="212.88" y="811.98" width="9.9" height="9.6" fill="#f0eed2"/><rect x="226.30" y="811.98" width="9.9" height="9.6" fill="#77738f"/><rect x="239.72" y="811.98" width="9.9" height="9.6" fill="#1b2450"/><rect x="253.14" y="811.98" width="9.9" height="9.6" fill="#1b2450"/><rect x="266.56" y="811.98" width="9.9" height="9.6" fill="#a9a5a6"/><path d="M279.98,811.98 H289.88 V821.58 Z" fill="#954343"/><path d="M279.98,811.98 L289.88,821.58 H279.98 Z" fill="#1b2450"/><line x1="279.98" y1="811.98" x2="289.88" y2="821.58" stroke="#fff" stroke-width="0.8"/><rect x="293.40" y="811.98" width="9.9" height="9.6" fill="#dbb791"/><rect x="306.82" y="811.98" width="9.9" height="9.6" fill="#c8927a"/><rect x="320.24" y="811.98" width="9.9" height="9.6" fill="#a45851"/><rect x="333.66" y="811.98" width="9.9" height="9.6" fill="#c8927a"/><rect x="347.08" y="811.98" width="9.9" height="9.6" fill="#c8927a"/><rect x="360.50" y="811.98" width="9.9" height="9.6" fill="#e0c198"/><rect x="373.92" y="811.98" width="9.9" height="9.6" fill="#ce9d80"/><rect x="387.34" y="811.98" width="9.9" height="9.6" fill="#954343"/><rect x="400.76" y="811.98" width="9.9" height="9.6" fill="#b47062"/><rect x="414.18" y="811.98" width="9.9" height="9.6" fill="#c58c76"/><rect x="427.60" y="811.98" width="9.9" height="9.6" fill="#cb987d"/><rect x="441.02" y="811.98" width="9.9" height="9.6" fill="#b06a5e"/><rect x="454.44" y="811.98" width="9.9" height="9.6" fill="#e0c198"/><rect x="467.86" y="811.98" width="9.9" height="9.6" fill="#d1a283"/><rect x="481.28" y="811.98" width="9.9" height="9.6" fill="#c18772"/><rect x="159.20" y="825.40" width="9.9" height="9.6" fill="#f5f3d3"/><rect x="172.62" y="825.40" width="9.9" height="9.6" fill="#d1cdbd"/><rect x="186.04" y="825.40" width="9.9" height="9.6" fill="#b1adaa"/><rect x="199.46" y="825.40" width="9.9" height="9.6" fill="#d6d3c0"/><rect x="212.88" y="825.40" width="9.9" height="9.6" fill="#f7f5d4"/><rect x="226.30" y="825.40" width="9.9" height="9.6" fill="#eeecd1"/><rect x="239.72" y="825.40" width="9.9" height="9.6" fill="#c5c1b6"/><rect x="253.14" y="825.40" width="9.9" height="9.6" fill="#c7c3b7"/><rect x="266.56" y="825.40" width="9.9" height="9.6" fill="#f1efd2"/><rect x="279.98" y="825.40" width="9.9" height="9.6" fill="#b9b5af"/><path d="M293.40,825.40 H303.30 V835.00 Z" fill="#be816e"/><path d="M293.40,825.40 L303.30,835.00 H293.40 Z" fill="#1b2450"/><line x1="293.40" y1="825.40" x2="303.30" y2="835.00" stroke="#fff" stroke-width="0.8"/><rect x="306.82" y="825.40" width="9.9" height="9.6" fill="#e4cba0"/><rect x="320.24" y="825.40" width="9.9" height="9.6" fill="#ddbc95"/><rect x="333.66" y="825.40" width="9.9" height="9.6" fill="#e4cba0"/><rect x="347.08" y="825.40" width="9.9" height="9.6" fill="#e4cba0"/><rect x="360.50" y="825.40" width="9.9" height="9.6" fill="#eadaac"/><rect x="373.92" y="825.40" width="9.9" height="9.6" fill="#e3c89e"/><rect x="387.34" y="825.40" width="9.9" height="9.6" fill="#d6ad8a"/><rect x="400.76" y="825.40" width="9.9" height="9.6" fill="#ddbc95"/><rect x="414.18" y="825.40" width="9.9" height="9.6" fill="#dbb791"/><rect x="427.60" y="825.40" width="9.9" height="9.6" fill="#e4cba0"/><rect x="441.02" y="825.40" width="9.9" height="9.6" fill="#e2c69c"/><rect x="454.44" y="825.40" width="9.9" height="9.6" fill="#eadaac"/><rect x="467.86" y="825.40" width="9.9" height="9.6" fill="#e4cba0"/><rect x="481.28" y="825.40" width="9.9" height="9.6" fill="#e3c89e"/><rect x="159.20" y="838.82" width="9.9" height="9.6" fill="#f2f0d2"/><rect x="172.62" y="838.82" width="9.9" height="9.6" fill="#c5c1b6"/><rect x="186.04" y="838.82" width="9.9" height="9.6" fill="#b1adaa"/><rect x="199.46" y="838.82" width="9.9" height="9.6" fill="#c1bdb3"/><rect x="212.88" y="838.82" width="9.9" height="9.6" fill="#f7f5d4"/><rect x="226.30" y="838.82" width="9.9" height="9.6" fill="#edebd0"/><rect x="239.72" y="838.82" width="9.9" height="9.6" fill="#a9a5a6"/><rect x="253.14" y="838.82" width="9.9" height="9.6" fill="#b1adaa"/><rect x="266.56" y="838.82" width="9.9" height="9.6" fill="#efedd1"/><rect x="279.98" y="838.82" width="9.9" height="9.6" fill="#95919d"/><rect x="293.40" y="838.82" width="9.9" height="9.6" fill="#f2f0d2"/><path d="M306.82,838.82 H316.72 V848.42 Z" fill="#e4cba0"/><path d="M306.82,838.82 L316.72,848.42 H306.82 Z" fill="#f7f5d4"/><line x1="306.82" y1="838.82" x2="316.72" y2="848.42" stroke="#fff" stroke-width="0.8"/><rect x="320.24" y="838.82" width="9.9" height="9.6" fill="#d6ad8a"/><rect x="333.66" y="838.82" width="9.9" height="9.6" fill="#ddbc95"/><rect x="347.08" y="838.82" width="9.9" height="9.6" fill="#ddbc95"/><rect x="360.50" y="838.82" width="9.9" height="9.6" fill="#e4cba0"/><rect x="373.92" y="838.82" width="9.9" height="9.6" fill="#ddbc95"/><rect x="387.34" y="838.82" width="9.9" height="9.6" fill="#ce9d80"/><rect x="400.76" y="838.82" width="9.9" height="9.6" fill="#d7af8b"/><rect x="414.18" y="838.82" width="9.9" height="9.6" fill="#ddbc95"/><rect x="427.60" y="838.82" width="9.9" height="9.6" fill="#debe96"/><rect x="441.02" y="838.82" width="9.9" height="9.6" fill="#d7af8b"/><rect x="454.44" y="838.82" width="9.9" height="9.6" fill="#e4cba0"/><rect x="467.86" y="838.82" width="9.9" height="9.6" fill="#dfbf97"/><rect x="481.28" y="838.82" width="9.9" height="9.6" fill="#dbb791"/><rect x="159.20" y="852.24" width="9.9" height="9.6" fill="#ebe9cf"/><rect x="172.62" y="852.24" width="9.9" height="9.6" fill="#95919d"/><rect x="186.04" y="852.24" width="9.9" height="9.6" fill="#77738f"/><rect x="199.46" y="852.24" width="9.9" height="9.6" fill="#95919d"/><rect x="212.88" y="852.24" width="9.9" height="9.6" fill="#f7f5d4"/><rect x="226.30" y="852.24" width="9.9" height="9.6" fill="#d6d3c0"/><rect x="239.72" y="852.24" width="9.9" height="9.6" fill="#6e6b8a"/><rect x="253.14" y="852.24" width="9.9" height="9.6" fill="#77738f"/><rect x="266.56" y="852.24" width="9.9" height="9.6" fill="#edebd0"/><rect x="279.98" y="852.24" width="9.9" height="9.6" fill="#5c5980"/><rect x="293.40" y="852.24" width="9.9" height="9.6" fill="#eeecd1"/><rect x="306.82" y="852.24" width="9.9" height="9.6" fill="#e6e3cc"/><path d="M320.24,852.24 H330.14 V861.84 Z" fill="#d6ad8a"/><path d="M320.24,852.24 L330.14,861.84 H320.24 Z" fill="#eeecd1"/><line x1="320.24" y1="852.24" x2="330.14" y2="861.84" stroke="#fff" stroke-width="0.8"/><rect x="333.66" y="852.24" width="9.9" height="9.6" fill="#d1a283"/><rect x="347.08" y="852.24" width="9.9" height="9.6" fill="#d6ad8a"/><rect x="360.50" y="852.24" width="9.9" height="9.6" fill="#e2c69c"/><rect x="373.92" y="852.24" width="9.9" height="9.6" fill="#d6ad8a"/><rect x="387.34" y="852.24" width="9.9" height="9.6" fill="#b47062"/><rect x="400.76" y="852.24" width="9.9" height="9.6" fill="#c58c76"/><rect x="414.18" y="852.24" width="9.9" height="9.6" fill="#d6ad8a"/><rect x="427.60" y="852.24" width="9.9" height="9.6" fill="#d6ad8a"/><rect x="441.02" y="852.24" width="9.9" height="9.6" fill="#c58c76"/><rect x="454.44" y="852.24" width="9.9" height="9.6" fill="#e2c69c"/><rect x="467.86" y="852.24" width="9.9" height="9.6" fill="#d9b28d"/><rect x="481.28" y="852.24" width="9.9" height="9.6" fill="#cf9f81"/><rect x="159.20" y="865.66" width="9.9" height="9.6" fill="#f5f3d3"/><rect x="172.62" y="865.66" width="9.9" height="9.6" fill="#d1cdbd"/><rect x="186.04" y="865.66" width="9.9" height="9.6" fill="#c1bdb3"/><rect x="199.46" y="865.66" width="9.9" height="9.6" fill="#d1cdbd"/><rect x="212.88" y="865.66" width="9.9" height="9.6" fill="#f7f5d4"/><rect x="226.30" y="865.66" width="9.9" height="9.6" fill="#eeecd1"/><rect x="239.72" y="865.66" width="9.9" height="9.6" fill="#bdb9b1"/><rect x="253.14" y="865.66" width="9.9" height="9.6" fill="#c1bdb3"/><rect x="266.56" y="865.66" width="9.9" height="9.6" fill="#f1efd2"/><rect x="279.98" y="865.66" width="9.9" height="9.6" fill="#a9a5a6"/><rect x="293.40" y="865.66" width="9.9" height="9.6" fill="#f2f0d2"/><rect x="306.82" y="865.66" width="9.9" height="9.6" fill="#f0eed2"/><rect x="320.24" y="865.66" width="9.9" height="9.6" fill="#ebe9cf"/><path d="M333.66,865.66 H343.56 V875.26 Z" fill="#e0c198"/><path d="M333.66,865.66 L343.56,875.26 H333.66 Z" fill="#f7f5d4"/><line x1="333.66" y1="865.66" x2="343.56" y2="875.26" stroke="#fff" stroke-width="0.8"/><rect x="347.08" y="865.66" width="9.9" height="9.6" fill="#dbb791"/><rect x="360.50" y="865.66" width="9.9" height="9.6" fill="#e4cba0"/><rect x="373.92" y="865.66" width="9.9" height="9.6" fill="#ddbc95"/><rect x="387.34" y="865.66" width="9.9" height="9.6" fill="#cb987d"/><rect x="400.76" y="865.66" width="9.9" height="9.6" fill="#d6ad8a"/><rect x="414.18" y="865.66" width="9.9" height="9.6" fill="#dbb791"/><rect x="427.60" y="865.66" width="9.9" height="9.6" fill="#dbb791"/><rect x="441.02" y="865.66" width="9.9" height="9.6" fill="#d4a886"/><rect x="454.44" y="865.66" width="9.9" height="9.6" fill="#e2c69c"/><rect x="467.86" y="865.66" width="9.9" height="9.6" fill="#ddbc95"/><rect x="481.28" y="865.66" width="9.9" height="9.6" fill="#dbb791"/><rect x="159.20" y="879.08" width="9.9" height="9.6" fill="#f1efd2"/><rect x="172.62" y="879.08" width="9.9" height="9.6" fill="#b9b5af"/><rect x="186.04" y="879.08" width="9.9" height="9.6" fill="#95919d"/><rect x="199.46" y="879.08" width="9.9" height="9.6" fill="#a9a5a6"/><rect x="212.88" y="879.08" width="9.9" height="9.6" fill="#f7f5d4"/><rect x="226.30" y="879.08" width="9.9" height="9.6" fill="#dbd8c4"/><rect x="239.72" y="879.08" width="9.9" height="9.6" fill="#888498"/><rect x="253.14" y="879.08" width="9.9" height="9.6" fill="#95919d"/><rect x="266.56" y="879.08" width="9.9" height="9.6" fill="#eeecd1"/><rect x="279.98" y="879.08" width="9.9" height="9.6" fill="#726f8c"/><rect x="293.40" y="879.08" width="9.9" height="9.6" fill="#f0eed2"/><rect x="306.82" y="879.08" width="9.9" height="9.6" fill="#ebe9cf"/><rect x="320.24" y="879.08" width="9.9" height="9.6" fill="#d9d5c2"/><rect x="333.66" y="879.08" width="9.9" height="9.6" fill="#edebd0"/><path d="M347.08,879.08 H356.98 V888.68 Z" fill="#e2c69c"/><path d="M347.08,879.08 L356.98,888.68 H347.08 Z" fill="#f1efd2"/><line x1="347.08" y1="879.08" x2="356.98" y2="888.68" stroke="#fff" stroke-width="0.8"/><rect x="360.50" y="879.08" width="9.9" height="9.6" fill="#e4cba0"/><rect x="373.92" y="879.08" width="9.9" height="9.6" fill="#ddbc95"/><rect x="387.34" y="879.08" width="9.9" height="9.6" fill="#cb987d"/><rect x="400.76" y="879.08" width="9.9" height="9.6" fill="#d6ad8a"/><rect x="414.18" y="879.08" width="9.9" height="9.6" fill="#dbb791"/><rect x="427.60" y="879.08" width="9.9" height="9.6" fill="#dbb791"/><rect x="441.02" y="879.08" width="9.9" height="9.6" fill="#d4a886"/><rect x="454.44" y="879.08" width="9.9" height="9.6" fill="#e2c69c"/><rect x="467.86" y="879.08" width="9.9" height="9.6" fill="#ddbc95"/><rect x="481.28" y="879.08" width="9.9" height="9.6" fill="#dbb791"/><rect x="159.20" y="892.50" width="9.9" height="9.6" fill="#f6f4d4"/><rect x="172.62" y="892.50" width="9.9" height="9.6" fill="#e6e3cc"/><rect x="186.04" y="892.50" width="9.9" height="9.6" fill="#e1dec8"/><rect x="199.46" y="892.50" width="9.9" height="9.6" fill="#e6e3cc"/><rect x="212.88" y="892.50" width="9.9" height="9.6" fill="#f7f5d4"/><rect x="226.30" y="892.50" width="9.9" height="9.6" fill="#f0eed2"/><rect x="239.72" y="892.50" width="9.9" height="9.6" fill="#d6d3c0"/><rect x="253.14" y="892.50" width="9.9" height="9.6" fill="#d9d5c2"/><rect x="266.56" y="892.50" width="9.9" height="9.6" fill="#f5f3d3"/><rect x="279.98" y="892.50" width="9.9" height="9.6" fill="#c5c1b6"/><rect x="293.40" y="892.50" width="9.9" height="9.6" fill="#f6f4d4"/><rect x="306.82" y="892.50" width="9.9" height="9.6" fill="#f2f0d2"/><rect x="320.24" y="892.50" width="9.9" height="9.6" fill="#f0eed2"/><rect x="333.66" y="892.50" width="9.9" height="9.6" fill="#f6f4d4"/><rect x="347.08" y="892.50" width="9.9" height="9.6" fill="#f2f0d2"/><path d="M360.50,892.50 H370.40 V902.10 Z" fill="#eee4b4"/><path d="M360.50,892.50 L370.40,902.10 H360.50 Z" fill="#f7f5d4"/><line x1="360.50" y1="892.50" x2="370.40" y2="902.10" stroke="#fff" stroke-width="0.8"/><rect x="373.92" y="892.50" width="9.9" height="9.6" fill="#e5cea2"/><rect x="387.34" y="892.50" width="9.9" height="9.6" fill="#e2c69c"/><rect x="400.76" y="892.50" width="9.9" height="9.6" fill="#e4cba0"/><rect x="414.18" y="892.50" width="9.9" height="9.6" fill="#e5cea2"/><rect x="427.60" y="892.50" width="9.9" height="9.6" fill="#e5cea2"/><rect x="441.02" y="892.50" width="9.9" height="9.6" fill="#e4cba0"/><rect x="454.44" y="892.50" width="9.9" height="9.6" fill="#eadaac"/><rect x="467.86" y="892.50" width="9.9" height="9.6" fill="#e7d2a6"/><rect x="481.28" y="892.50" width="9.9" height="9.6" fill="#e5cea2"/><rect x="159.20" y="905.92" width="9.9" height="9.6" fill="#f2f0d2"/><rect x="172.62" y="905.92" width="9.9" height="9.6" fill="#c5c1b6"/><rect x="186.04" y="905.92" width="9.9" height="9.6" fill="#b1adaa"/><rect x="199.46" y="905.92" width="9.9" height="9.6" fill="#c1bdb3"/><rect x="212.88" y="905.92" width="9.9" height="9.6" fill="#f7f5d4"/><rect x="226.30" y="905.92" width="9.9" height="9.6" fill="#e6e3cc"/><rect x="239.72" y="905.92" width="9.9" height="9.6" fill="#a9a5a6"/><rect x="253.14" y="905.92" width="9.9" height="9.6" fill="#ada9a8"/><rect x="266.56" y="905.92" width="9.9" height="9.6" fill="#efedd1"/><rect x="279.98" y="905.92" width="9.9" height="9.6" fill="#908c9b"/><rect x="293.40" y="905.92" width="9.9" height="9.6" fill="#f2f0d2"/><rect x="306.82" y="905.92" width="9.9" height="9.6" fill="#f0eed2"/><rect x="320.24" y="905.92" width="9.9" height="9.6" fill="#dbd8c4"/><rect x="333.66" y="905.92" width="9.9" height="9.6" fill="#f1efd2"/><rect x="347.08" y="905.92" width="9.9" height="9.6" fill="#ebe9cf"/><rect x="360.50" y="905.92" width="9.9" height="9.6" fill="#f5f3d3"/><path d="M373.92,905.92 H383.82 V915.52 Z" fill="#e3c89e"/><path d="M373.92,905.92 L383.82,915.52 H373.92 Z" fill="#f6f4d4"/><line x1="373.92" y1="905.92" x2="383.82" y2="915.52" stroke="#fff" stroke-width="0.8"/><rect x="387.34" y="905.92" width="9.9" height="9.6" fill="#d1a283"/><rect x="400.76" y="905.92" width="9.9" height="9.6" fill="#dab48f"/><rect x="414.18" y="905.92" width="9.9" height="9.6" fill="#e0c198"/><rect x="427.60" y="905.92" width="9.9" height="9.6" fill="#e0c198"/><rect x="441.02" y="905.92" width="9.9" height="9.6" fill="#dbb791"/><rect x="454.44" y="905.92" width="9.9" height="9.6" fill="#e4cba0"/><rect x="467.86" y="905.92" width="9.9" height="9.6" fill="#e0c198"/><rect x="481.28" y="905.92" width="9.9" height="9.6" fill="#dfc098"/><rect x="159.20" y="919.34" width="9.9" height="9.6" fill="#cdc9ba"/><rect x="172.62" y="919.34" width="9.9" height="9.6" fill="#242a68"/><rect x="186.04" y="919.34" width="9.9" height="9.6" fill="#1b2450"/><rect x="199.46" y="919.34" width="9.9" height="9.6" fill="#1e2657"/><rect x="212.88" y="919.34" width="9.9" height="9.6" fill="#f1efd2"/><rect x="226.30" y="919.34" width="9.9" height="9.6" fill="#9d99a0"/><rect x="239.72" y="919.34" width="9.9" height="9.6" fill="#1b2450"/><rect x="253.14" y="919.34" width="9.9" height="9.6" fill="#1b2450"/><rect x="266.56" y="919.34" width="9.9" height="9.6" fill="#c5c1b6"/><rect x="279.98" y="919.34" width="9.9" height="9.6" fill="#1b2450"/><rect x="293.40" y="919.34" width="9.9" height="9.6" fill="#cdc9ba"/><rect x="306.82" y="919.34" width="9.9" height="9.6" fill="#ada9a8"/><rect x="320.24" y="919.34" width="9.9" height="9.6" fill="#807c94"/><rect x="333.66" y="919.34" width="9.9" height="9.6" fill="#c5c1b6"/><rect x="347.08" y="919.34" width="9.9" height="9.6" fill="#99959f"/><rect x="360.50" y="919.34" width="9.9" height="9.6" fill="#d9d5c2"/><rect x="373.92" y="919.34" width="9.9" height="9.6" fill="#b9b5af"/><path d="M387.34,919.34 H397.24 V928.94 Z" fill="#b06a5e"/><path d="M387.34,919.34 L397.24,928.94 H387.34 Z" fill="#726f8c"/><line x1="387.34" y1="919.34" x2="397.24" y2="928.94" stroke="#fff" stroke-width="0.8"/><rect x="400.76" y="919.34" width="9.9" height="9.6" fill="#b47062"/><rect x="414.18" y="919.34" width="9.9" height="9.6" fill="#be816e"/><rect x="427.60" y="919.34" width="9.9" height="9.6" fill="#cb987d"/><rect x="441.02" y="919.34" width="9.9" height="9.6" fill="#b77666"/><rect x="454.44" y="919.34" width="9.9" height="9.6" fill="#e0c198"/><rect x="467.86" y="919.34" width="9.9" height="9.6" fill="#d1a283"/><rect x="481.28" y="919.34" width="9.9" height="9.6" fill="#c58c76"/><rect x="159.20" y="932.76" width="9.9" height="9.6" fill="#e6e3cc"/><rect x="172.62" y="932.76" width="9.9" height="9.6" fill="#726f8c"/><rect x="186.04" y="932.76" width="9.9" height="9.6" fill="#494977"/><rect x="199.46" y="932.76" width="9.9" height="9.6" fill="#6e6b8a"/><rect x="212.88" y="932.76" width="9.9" height="9.6" fill="#f6f4d4"/><rect x="226.30" y="932.76" width="9.9" height="9.6" fill="#c5c1b6"/><rect x="239.72" y="932.76" width="9.9" height="9.6" fill="#3b3d71"/><rect x="253.14" y="932.76" width="9.9" height="9.6" fill="#4e4d79"/><rect x="266.56" y="932.76" width="9.9" height="9.6" fill="#d9d5c2"/><rect x="279.98" y="932.76" width="9.9" height="9.6" fill="#1d2555"/><rect x="293.40" y="932.76" width="9.9" height="9.6" fill="#dbd8c4"/><rect x="306.82" y="932.76" width="9.9" height="9.6" fill="#d6d3c0"/><rect x="320.24" y="932.76" width="9.9" height="9.6" fill="#b1adaa"/><rect x="333.66" y="932.76" width="9.9" height="9.6" fill="#d6d3c0"/><rect x="347.08" y="932.76" width="9.9" height="9.6" fill="#c5c1b6"/><rect x="360.50" y="932.76" width="9.9" height="9.6" fill="#ebe9cf"/><rect x="373.92" y="932.76" width="9.9" height="9.6" fill="#d1cdbd"/><rect x="387.34" y="932.76" width="9.9" height="9.6" fill="#605e82"/><path d="M400.76,932.76 H410.66 V942.36 Z" fill="#d6ad8a"/><path d="M400.76,932.76 L410.66,942.36 H400.76 Z" fill="#cdc9ba"/><line x1="400.76" y1="932.76" x2="410.66" y2="942.36" stroke="#fff" stroke-width="0.8"/><rect x="414.18" y="932.76" width="9.9" height="9.6" fill="#ce9d80"/><rect x="427.60" y="932.76" width="9.9" height="9.6" fill="#d7af8b"/><rect x="441.02" y="932.76" width="9.9" height="9.6" fill="#cb987d"/><rect x="454.44" y="932.76" width="9.9" height="9.6" fill="#e1c39a"/><rect x="467.86" y="932.76" width="9.9" height="9.6" fill="#d9b28d"/><rect x="481.28" y="932.76" width="9.9" height="9.6" fill="#d4a886"/><rect x="159.20" y="946.18" width="9.9" height="9.6" fill="#f5f3d3"/><rect x="172.62" y="946.18" width="9.9" height="9.6" fill="#d6d3c0"/><rect x="186.04" y="946.18" width="9.9" height="9.6" fill="#bfbbb2"/><rect x="199.46" y="946.18" width="9.9" height="9.6" fill="#d6d3c0"/><rect x="212.88" y="946.18" width="9.9" height="9.6" fill="#f7f5d4"/><rect x="226.30" y="946.18" width="9.9" height="9.6" fill="#eeecd1"/><rect x="239.72" y="946.18" width="9.9" height="9.6" fill="#c5c1b6"/><rect x="253.14" y="946.18" width="9.9" height="9.6" fill="#c7c3b7"/><rect x="266.56" y="946.18" width="9.9" height="9.6" fill="#f2f0d2"/><rect x="279.98" y="946.18" width="9.9" height="9.6" fill="#b9b5af"/><rect x="293.40" y="946.18" width="9.9" height="9.6" fill="#f0eed2"/><rect x="306.82" y="946.18" width="9.9" height="9.6" fill="#f0eed2"/><rect x="320.24" y="946.18" width="9.9" height="9.6" fill="#ebe9cf"/><rect x="333.66" y="946.18" width="9.9" height="9.6" fill="#f2f0d2"/><rect x="347.08" y="946.18" width="9.9" height="9.6" fill="#f0eed2"/><rect x="360.50" y="946.18" width="9.9" height="9.6" fill="#f6f4d4"/><rect x="373.92" y="946.18" width="9.9" height="9.6" fill="#f0eed2"/><rect x="387.34" y="946.18" width="9.9" height="9.6" fill="#cdc9ba"/><rect x="400.76" y="946.18" width="9.9" height="9.6" fill="#e1dec8"/><path d="M414.18,946.18 H424.08 V955.78 Z" fill="#ddbc95"/><path d="M414.18,946.18 L424.08,955.78 H414.18 Z" fill="#f7f5d4"/><line x1="414.18" y1="946.18" x2="424.08" y2="955.78" stroke="#fff" stroke-width="0.8"/><rect x="427.60" y="946.18" width="9.9" height="9.6" fill="#dab48f"/><rect x="441.02" y="946.18" width="9.9" height="9.6" fill="#d4a886"/><rect x="454.44" y="946.18" width="9.9" height="9.6" fill="#e4cba0"/><rect x="467.86" y="946.18" width="9.9" height="9.6" fill="#ddbc95"/><rect x="481.28" y="946.18" width="9.9" height="9.6" fill="#dab48f"/><rect x="159.20" y="959.60" width="9.9" height="9.6" fill="#f2f0d2"/><rect x="172.62" y="959.60" width="9.9" height="9.6" fill="#d1cdbd"/><rect x="186.04" y="959.60" width="9.9" height="9.6" fill="#c1bdb3"/><rect x="199.46" y="959.60" width="9.9" height="9.6" fill="#d1cdbd"/><rect x="212.88" y="959.60" width="9.9" height="9.6" fill="#f7f5d4"/><rect x="226.30" y="959.60" width="9.9" height="9.6" fill="#eeecd1"/><rect x="239.72" y="959.60" width="9.9" height="9.6" fill="#bdb9b1"/><rect x="253.14" y="959.60" width="9.9" height="9.6" fill="#c1bdb3"/><rect x="266.56" y="959.60" width="9.9" height="9.6" fill="#f1efd2"/><rect x="279.98" y="959.60" width="9.9" height="9.6" fill="#a9a5a6"/><rect x="293.40" y="959.60" width="9.9" height="9.6" fill="#f2f0d2"/><rect x="306.82" y="959.60" width="9.9" height="9.6" fill="#f0eed2"/><rect x="320.24" y="959.60" width="9.9" height="9.6" fill="#e6e3cc"/><rect x="333.66" y="959.60" width="9.9" height="9.6" fill="#f2f0d2"/><rect x="347.08" y="959.60" width="9.9" height="9.6" fill="#eeecd1"/><rect x="360.50" y="959.60" width="9.9" height="9.6" fill="#f6f4d4"/><rect x="373.92" y="959.60" width="9.9" height="9.6" fill="#f0eed2"/><rect x="387.34" y="959.60" width="9.9" height="9.6" fill="#c5c1b6"/><rect x="400.76" y="959.60" width="9.9" height="9.6" fill="#d9d5c2"/><rect x="414.18" y="959.60" width="9.9" height="9.6" fill="#f2f0d2"/><path d="M427.60,959.60 H437.50 V969.20 Z" fill="#e2c69c"/><path d="M427.60,959.60 L437.50,969.20 H427.60 Z" fill="#f7f5d4"/><line x1="427.60" y1="959.60" x2="437.50" y2="969.20" stroke="#fff" stroke-width="0.8"/><rect x="441.02" y="959.60" width="9.9" height="9.6" fill="#d6ad8a"/><rect x="454.44" y="959.60" width="9.9" height="9.6" fill="#e4cba0"/><rect x="467.86" y="959.60" width="9.9" height="9.6" fill="#ddbc95"/><rect x="481.28" y="959.60" width="9.9" height="9.6" fill="#dab48f"/><rect x="159.20" y="973.02" width="9.9" height="9.6" fill="#edebd0"/><rect x="172.62" y="973.02" width="9.9" height="9.6" fill="#908c9b"/><rect x="186.04" y="973.02" width="9.9" height="9.6" fill="#726f8c"/><rect x="199.46" y="973.02" width="9.9" height="9.6" fill="#888498"/><rect x="212.88" y="973.02" width="9.9" height="9.6" fill="#f6f4d4"/><rect x="226.30" y="973.02" width="9.9" height="9.6" fill="#d1cdbd"/><rect x="239.72" y="973.02" width="9.9" height="9.6" fill="#696687"/><rect x="253.14" y="973.02" width="9.9" height="9.6" fill="#6e6b8a"/><rect x="266.56" y="973.02" width="9.9" height="9.6" fill="#e1dec8"/><rect x="279.98" y="973.02" width="9.9" height="9.6" fill="#454575"/><rect x="293.40" y="973.02" width="9.9" height="9.6" fill="#edebd0"/><rect x="306.82" y="973.02" width="9.9" height="9.6" fill="#d9d5c2"/><rect x="320.24" y="973.02" width="9.9" height="9.6" fill="#c5c1b6"/><rect x="333.66" y="973.02" width="9.9" height="9.6" fill="#e1dec8"/><rect x="347.08" y="973.02" width="9.9" height="9.6" fill="#cdc9ba"/><rect x="360.50" y="973.02" width="9.9" height="9.6" fill="#f0eed2"/><rect x="373.92" y="973.02" width="9.9" height="9.6" fill="#d9d5c2"/><rect x="387.34" y="973.02" width="9.9" height="9.6" fill="#7b7891"/><rect x="400.76" y="973.02" width="9.9" height="9.6" fill="#ada9a8"/><rect x="414.18" y="973.02" width="9.9" height="9.6" fill="#eeecd1"/><rect x="427.60" y="973.02" width="9.9" height="9.6" fill="#e1dec8"/><path d="M441.02,973.02 H450.92 V982.62 Z" fill="#d1a283"/><path d="M441.02,973.02 L450.92,982.62 H441.02 Z" fill="#e1dec8"/><line x1="441.02" y1="973.02" x2="450.92" y2="982.62" stroke="#fff" stroke-width="0.8"/><rect x="454.44" y="973.02" width="9.9" height="9.6" fill="#e4cba0"/><rect x="467.86" y="973.02" width="9.9" height="9.6" fill="#dab48f"/><rect x="481.28" y="973.02" width="9.9" height="9.6" fill="#d1a283"/><rect x="159.20" y="986.44" width="9.9" height="9.6" fill="#f6f4d4"/><rect x="172.62" y="986.44" width="9.9" height="9.6" fill="#e6e3cc"/><rect x="186.04" y="986.44" width="9.9" height="9.6" fill="#e1dec8"/><rect x="199.46" y="986.44" width="9.9" height="9.6" fill="#e6e3cc"/><rect x="212.88" y="986.44" width="9.9" height="9.6" fill="#f7f5d4"/><rect x="226.30" y="986.44" width="9.9" height="9.6" fill="#f0eed2"/><rect x="239.72" y="986.44" width="9.9" height="9.6" fill="#d6d3c0"/><rect x="253.14" y="986.44" width="9.9" height="9.6" fill="#d9d5c2"/><rect x="266.56" y="986.44" width="9.9" height="9.6" fill="#f5f3d3"/><rect x="279.98" y="986.44" width="9.9" height="9.6" fill="#c7c3b7"/><rect x="293.40" y="986.44" width="9.9" height="9.6" fill="#f6f4d4"/><rect x="306.82" y="986.44" width="9.9" height="9.6" fill="#f2f0d2"/><rect x="320.24" y="986.44" width="9.9" height="9.6" fill="#f0eed2"/><rect x="333.66" y="986.44" width="9.9" height="9.6" fill="#f6f4d4"/><rect x="347.08" y="986.44" width="9.9" height="9.6" fill="#f2f0d2"/><rect x="360.50" y="986.44" width="9.9" height="9.6" fill="#f7f5d4"/><rect x="373.92" y="986.44" width="9.9" height="9.6" fill="#f2f0d2"/><rect x="387.34" y="986.44" width="9.9" height="9.6" fill="#d9d5c2"/><rect x="400.76" y="986.44" width="9.9" height="9.6" fill="#edebd0"/><rect x="414.18" y="986.44" width="9.9" height="9.6" fill="#f6f4d4"/><rect x="427.60" y="986.44" width="9.9" height="9.6" fill="#f6f4d4"/><rect x="441.02" y="986.44" width="9.9" height="9.6" fill="#f0eed2"/><path d="M454.44,986.44 H464.34 V996.04 Z" fill="#eee4b4"/><path d="M454.44,986.44 L464.34,996.04 H454.44 Z" fill="#f7f5d4"/><line x1="454.44" y1="986.44" x2="464.34" y2="996.04" stroke="#fff" stroke-width="0.8"/><rect x="467.86" y="986.44" width="9.9" height="9.6" fill="#e4cba0"/><rect x="481.28" y="986.44" width="9.9" height="9.6" fill="#e4cba0"/><rect x="159.20" y="999.86" width="9.9" height="9.6" fill="#f5f3d3"/><rect x="172.62" y="999.86" width="9.9" height="9.6" fill="#e1dec8"/><rect x="186.04" y="999.86" width="9.9" height="9.6" fill="#d1cdbd"/><rect x="199.46" y="999.86" width="9.9" height="9.6" fill="#d9d5c2"/><rect x="212.88" y="999.86" width="9.9" height="9.6" fill="#f7f5d4"/><rect x="226.30" y="999.86" width="9.9" height="9.6" fill="#f0eed2"/><rect x="239.72" y="999.86" width="9.9" height="9.6" fill="#c7c3b7"/><rect x="253.14" y="999.86" width="9.9" height="9.6" fill="#d1cdbd"/><rect x="266.56" y="999.86" width="9.9" height="9.6" fill="#f2f0d2"/><rect x="279.98" y="999.86" width="9.9" height="9.6" fill="#b9b5af"/><rect x="293.40" y="999.86" width="9.9" height="9.6" fill="#f5f3d3"/><rect x="306.82" y="999.86" width="9.9" height="9.6" fill="#f2f0d2"/><rect x="320.24" y="999.86" width="9.9" height="9.6" fill="#eeecd1"/><rect x="333.66" y="999.86" width="9.9" height="9.6" fill="#f2f0d2"/><rect x="347.08" y="999.86" width="9.9" height="9.6" fill="#f0eed2"/><rect x="360.50" y="999.86" width="9.9" height="9.6" fill="#f6f4d4"/><rect x="373.92" y="999.86" width="9.9" height="9.6" fill="#f0eed2"/><rect x="387.34" y="999.86" width="9.9" height="9.6" fill="#d1cdbd"/><rect x="400.76" y="999.86" width="9.9" height="9.6" fill="#e6e3cc"/><rect x="414.18" y="999.86" width="9.9" height="9.6" fill="#f5f3d3"/><rect x="427.60" y="999.86" width="9.9" height="9.6" fill="#f2f0d2"/><rect x="441.02" y="999.86" width="9.9" height="9.6" fill="#edebd0"/><rect x="454.44" y="999.86" width="9.9" height="9.6" fill="#f6f4d4"/><path d="M467.86,999.86 H477.76 V1009.46 Z" fill="#e4cba0"/><path d="M467.86,999.86 L477.76,1009.46 H467.86 Z" fill="#f7f5d4"/><line x1="467.86" y1="999.86" x2="477.76" y2="1009.46" stroke="#fff" stroke-width="0.8"/><rect x="481.28" y="999.86" width="9.9" height="9.6" fill="#ddbc95"/><rect x="159.20" y="1013.28" width="9.9" height="9.6" fill="#f5f3d3"/><rect x="172.62" y="1013.28" width="9.9" height="9.6" fill="#e1dec8"/><rect x="186.04" y="1013.28" width="9.9" height="9.6" fill="#d1cdbd"/><rect x="199.46" y="1013.28" width="9.9" height="9.6" fill="#d9d5c2"/><rect x="212.88" y="1013.28" width="9.9" height="9.6" fill="#f7f5d4"/><rect x="226.30" y="1013.28" width="9.9" height="9.6" fill="#f0eed2"/><rect x="239.72" y="1013.28" width="9.9" height="9.6" fill="#c7c3b7"/><rect x="253.14" y="1013.28" width="9.9" height="9.6" fill="#d1cdbd"/><rect x="266.56" y="1013.28" width="9.9" height="9.6" fill="#f2f0d2"/><rect x="279.98" y="1013.28" width="9.9" height="9.6" fill="#b9b5af"/><rect x="293.40" y="1013.28" width="9.9" height="9.6" fill="#f5f3d3"/><rect x="306.82" y="1013.28" width="9.9" height="9.6" fill="#f2f0d2"/><rect x="320.24" y="1013.28" width="9.9" height="9.6" fill="#eeecd1"/><rect x="333.66" y="1013.28" width="9.9" height="9.6" fill="#f2f0d2"/><rect x="347.08" y="1013.28" width="9.9" height="9.6" fill="#f0eed2"/><rect x="360.50" y="1013.28" width="9.9" height="9.6" fill="#f6f4d4"/><rect x="373.92" y="1013.28" width="9.9" height="9.6" fill="#f0eed2"/><rect x="387.34" y="1013.28" width="9.9" height="9.6" fill="#d1cdbd"/><rect x="400.76" y="1013.28" width="9.9" height="9.6" fill="#e6e3cc"/><rect x="414.18" y="1013.28" width="9.9" height="9.6" fill="#f5f3d3"/><rect x="427.60" y="1013.28" width="9.9" height="9.6" fill="#f2f0d2"/><rect x="441.02" y="1013.28" width="9.9" height="9.6" fill="#edebd0"/><rect x="454.44" y="1013.28" width="9.9" height="9.6" fill="#f6f4d4"/><rect x="467.86" y="1013.28" width="9.9" height="9.6" fill="#f5f3d3"/><path d="M481.28,1013.28 H491.18 V1022.88 Z" fill="#e4cba0"/><path d="M481.28,1013.28 L491.18,1022.88 H481.28 Z" fill="#f7f5d4"/><line x1="481.28" y1="1013.28" x2="491.18" y2="1022.88" stroke="#fff" stroke-width="0.8"/>
<rect x="159.20" y="676.60" width="9.9" height="9.80" fill="#741525"/>
<rect x="172.62" y="650.90" width="9.9" height="35.50" fill="#741525"/>
<rect x="186.04" y="640.30" width="9.9" height="46.10" fill="#741525"/>
<rect x="199.46" y="665.60" width="9.9" height="20.80" fill="#741525"/>
<rect x="212.88" y="685.20" width="9.9" height="1.20" fill="#741525"/>
<rect x="226.30" y="667.30" width="9.9" height="19.10" fill="#741525"/>
<rect x="239.72" y="652.10" width="9.9" height="34.30" fill="#741525"/>
<rect x="253.14" y="652.80" width="9.9" height="33.60" fill="#741525"/>
<rect x="266.56" y="677.10" width="9.9" height="9.30" fill="#741525"/>
<rect x="279.98" y="652.60" width="9.9" height="33.80" fill="#741525"/>
<rect x="293.40" y="670.00" width="9.9" height="16.40" fill="#741525"/>
<rect x="306.82" y="674.20" width="9.9" height="12.20" fill="#741525"/>
<rect x="320.24" y="663.10" width="9.9" height="23.30" fill="#741525"/>
<rect x="333.66" y="673.40" width="9.9" height="13.00" fill="#741525"/>
<rect x="347.08" y="674.70" width="9.9" height="11.70" fill="#741525"/>
<rect x="360.50" y="682.00" width="9.9" height="4.40" fill="#741525"/>
<rect x="373.92" y="674.90" width="9.9" height="11.50" fill="#741525"/>
<rect x="387.34" y="656.00" width="9.9" height="30.40" fill="#741525"/>
<rect x="400.76" y="666.30" width="9.9" height="20.10" fill="#741525"/>
<rect x="414.18" y="666.80" width="9.9" height="19.60" fill="#741525"/>
<rect x="427.60" y="674.90" width="9.9" height="11.50" fill="#741525"/>
<rect x="441.02" y="668.00" width="9.9" height="18.40" fill="#741525"/>
<rect x="454.44" y="681.50" width="9.9" height="4.90" fill="#741525"/>
<rect x="467.86" y="676.10" width="9.9" height="10.30" fill="#741525"/>
<rect x="481.28" y="673.00" width="9.9" height="13.40" fill="#741525"/>
<path d="M157.6,637 V687.5 M155,649.7 H157.6 M155,662.2 H157.6 M155,674.6 H157.6 M155,687.5 H157.6" stroke="#000" stroke-width="1.4" fill="none"/>
<text x="151.50" y="655.70" font-size="17.2" text-anchor="end" fill="#000" >30k</text>
<text x="151.50" y="668.70" font-size="17.2" text-anchor="end" fill="#000" >20k</text>
<text x="151.50" y="680.80" font-size="17.2" text-anchor="end" fill="#000" >10k</text>
<text x="126.00" y="632.00" font-size="17.4" text-anchor="start" fill="#000" >#CircRNA</text>
<rect x="153.90" y="691.20" width="1.00" height="9.6" fill="#1b2450"/>
<rect x="140.10" y="704.62" width="14.80" height="9.6" fill="#1b2450"/>
<rect x="127.30" y="718.04" width="27.60" height="9.6" fill="#1b2450"/>
<rect x="142.20" y="731.46" width="12.70" height="9.6" fill="#1b2450"/>
<rect x="150.30" y="758.30" width="4.60" height="9.6" fill="#1b2450"/>
<rect x="134.90" y="771.72" width="20.00" height="9.6" fill="#1b2450"/>
<rect x="130.20" y="785.14" width="24.70" height="9.6" fill="#1b2450"/>
<rect x="153.10" y="798.56" width="1.80" height="9.6" fill="#1b2450"/>
<rect x="129.70" y="811.98" width="25.20" height="9.6" fill="#1b2450"/>
<rect x="108.90" y="825.40" width="46.00" height="9.6" fill="#1b2450"/>
<rect x="152.30" y="838.82" width="2.60" height="9.6" fill="#1b2450"/>
<rect x="146.00" y="852.24" width="8.90" height="9.6" fill="#1b2450"/>
<rect x="152.80" y="865.66" width="2.10" height="9.6" fill="#1b2450"/>
<rect x="151.00" y="879.08" width="3.90" height="9.6" fill="#1b2450"/>
<rect x="154.00" y="892.50" width="0.90" height="9.6" fill="#1b2450"/>
<rect x="147.20" y="905.92" width="7.70" height="9.6" fill="#1b2450"/>
<rect x="137.80" y="919.34" width="17.10" height="9.6" fill="#1b2450"/>
<rect x="144.30" y="932.76" width="10.60" height="9.6" fill="#1b2450"/>
<rect x="151.70" y="946.18" width="3.20" height="9.6" fill="#1b2450"/>
<rect x="152.80" y="959.60" width="2.10" height="9.6" fill="#1b2450"/>
<rect x="149.30" y="973.02" width="5.60" height="9.6" fill="#1b2450"/>
<rect x="154.00" y="986.44" width="0.90" height="9.6" fill="#1b2450"/>
<rect x="153.40" y="999.86" width="1.50" height="9.6" fill="#1b2450"/>
<path d="M105,1025.3 H156.3 M111.5,1025.3 V1031.6 M126.3,1025.3 V1031.6 M141.1,1025.3 V1031.6 M156.3,1025.3 V1027.5" stroke="#000" stroke-width="1.4" fill="none"/>
<text transform="translate(115,1035) rotate(-90)" font-size="17" text-anchor="end" fill="#000">60</text>
<text transform="translate(129.9,1035) rotate(-90)" font-size="17" text-anchor="end" fill="#000">40</text>
<text transform="translate(144.9,1035) rotate(-90)" font-size="17" text-anchor="end" fill="#000">20</text>
<text transform="translate(118.8,1012.5) rotate(-90)" font-size="17.8" text-anchor="start" fill="#000">#Sample</text>
<text x="494.50" y="697.70" font-size="15.8" text-anchor="start" fill="#cc1f2e" >Adipose</text>
<text x="494.50" y="711.12" font-size="15.8" text-anchor="start" fill="#5e9080" >Cardiac</text>
<text x="494.50" y="724.54" font-size="15.8" text-anchor="start" fill="#7d4fae" >Central Nervous</text>
<text x="494.50" y="737.96" font-size="15.8" text-anchor="start" fill="#b4625a" >Dermal</text>
<text x="494.50" y="751.38" font-size="15.8" text-anchor="start" fill="#5e5e90" >Embryonic stem cells</text>
<text x="494.50" y="764.80" font-size="15.8" text-anchor="start" fill="#f5a030" >Endocrine</text>
<text x="494.50" y="778.22" font-size="15.8" text-anchor="start" fill="#3a9a50" >Female Reproductive</text>
<text x="494.50" y="791.64" font-size="15.8" text-anchor="start" fill="#8c4a1e" >Gastrointestinal</text>
<text x="494.50" y="805.06" font-size="15.8" text-anchor="start" fill="#9c4a6a" >Hair</text>
<text x="494.50" y="818.48" font-size="15.8" text-anchor="start" fill="#c86a8a" >Hematopoietic</text>
<text x="494.50" y="831.90" font-size="15.8" text-anchor="start" fill="#c890c8" >Hepatic</text>
<text x="494.50" y="845.32" font-size="15.8" text-anchor="start" fill="#eec030" >Lymphatic</text>
<text x="494.50" y="858.74" font-size="15.8" text-anchor="start" fill="#e07ab0" >Male Reproductive</text>
<text x="494.50" y="872.16" font-size="15.8" text-anchor="start" fill="#d0703a" >Mesenchymal Stem</text>
<text x="494.50" y="885.58" font-size="15.8" text-anchor="start" fill="#f08030" >Ocular</text>
<text x="494.50" y="899.00" font-size="15.8" text-anchor="start" fill="#2e8a78" >Oral</text>
<text x="494.50" y="912.42" font-size="15.8" text-anchor="start" fill="#2a8aa8" >Placenta</text>
<text x="494.50" y="925.84" font-size="15.8" text-anchor="start" fill="#c08a28" >Pulmonary</text>
<text x="494.50" y="939.26" font-size="15.8" text-anchor="start" fill="#f0e050" >Renal</text>
<text x="494.50" y="952.68" font-size="15.8" text-anchor="start" fill="#a02848" >Skeletal Muscle</text>
<text x="494.50" y="966.10" font-size="15.8" text-anchor="start" fill="#a0a4a8" >Skeletal</text>
<text x="494.50" y="979.52" font-size="15.8" text-anchor="start" fill="#2e78b8" >Sympathetic Nervous</text>
<text x="494.50" y="992.94" font-size="15.8" text-anchor="start" fill="#b090b8" >Tonsil</text>
<text x="494.50" y="1006.36" font-size="15.8" text-anchor="start" fill="#dcbc30" >Umbilical Cord</text>
<text x="494.50" y="1019.78" font-size="15.8" text-anchor="start" fill="#686898" >Urethral</text>
<defs><linearGradient id="gE" x1="0" x2="1" y1="0" y2="0"><stop offset="0" stop-color="#f5f2ca"/><stop offset="0.1" stop-color="#eee4b4"/><stop offset="0.25" stop-color="#e2c69c"/><stop offset="0.4" stop-color="#d4a886"/><stop offset="0.5" stop-color="#c8927a"/><stop offset="0.65" stop-color="#b47062"/><stop offset="0.8" stop-color="#9c4c48"/><stop offset="0.9" stop-color="#8e3a3e"/><stop offset="1" stop-color="#7a1a2a"/></linearGradient><linearGradient id="gS" x1="0" x2="1" y1="0" y2="0"><stop offset="0" stop-color="#f7f5d4"/><stop offset="0.08" stop-color="#ecead0"/><stop offset="0.17" stop-color="#d0ccbc"/><stop offset="0.33" stop-color="#aaa6a6"/><stop offset="0.5" stop-color="#807c94"/><stop offset="0.67" stop-color="#52507a"/><stop offset="0.83" stop-color="#242a68"/><stop offset="1" stop-color="#1b2450"/></linearGradient></defs>
<rect x="561.9" y="609.3" width="79.8" height="16.6" rx="1.2" fill="url(#gE)"/>
<rect x="560.7" y="647.7" width="81" height="17" rx="1.2" fill="url(#gS)"/>
<rect x="565.0" y="621.3" width="1.2" height="4.6" fill="#fff"/>
<rect x="583.1" y="621.3" width="1.2" height="4.6" fill="#fff"/>
<rect x="601.1" y="621.3" width="1.2" height="4.6" fill="#fff"/>
<rect x="619.4" y="621.3" width="1.2" height="4.6" fill="#fff"/>
<rect x="637.5" y="621.3" width="1.2" height="4.6" fill="#fff"/>
<rect x="586.4" y="660" width="1.2" height="4.7" fill="#fff"/>
<rect x="612.1" y="660" width="1.2" height="4.7" fill="#fff"/>
<rect x="637.3" y="660" width="1.2" height="4.7" fill="#fff"/>
<text x="494.00" y="628.00" font-size="17.5" text-anchor="start" fill="#000" >#Events</text>
<text x="494.00" y="656.10" font-size="17.5" text-anchor="start" fill="#000" >#Sample</text>
<text x="526.90" y="671.10" font-size="17.5" text-anchor="middle" fill="#000" >pairs</text>
<text x="567.80" y="640.00" font-size="16.3" text-anchor="middle" fill="#000" >0</text>
<text x="604.40" y="640.00" font-size="16.3" text-anchor="middle" fill="#000" >10</text>
<text x="637.90" y="640.00" font-size="16.3" text-anchor="middle" fill="#000" >20</text>
<text x="566.30" y="678.80" font-size="16.3" text-anchor="middle" fill="#000" >0</text>
<text x="588.20" y="678.80" font-size="16.3" text-anchor="middle" fill="#000" >2</text>
<text x="613.00" y="678.80" font-size="16.3" text-anchor="middle" fill="#000" >4</text>
<text x="637.90" y="678.80" font-size="16.3" text-anchor="middle" fill="#000" >6</text>
<text x="642.50" y="38.00" font-size="30" text-anchor="start" fill="#231815" >c</text>
<text x="1170.60" y="47.70" font-size="20" text-anchor="start" fill="#231815" >total RNA</text>
<text x="1265.50" y="47.70" font-size="20" text-anchor="start" fill="#231815" >or</text>
<text x="1292.60" y="47.70" font-size="20" text-anchor="start" fill="#231815" >poly(A)</text>
<rect x="1208.3" y="56.1" width="4.4" height="38" fill="#1a2a80"/><path d="M1204.2,93 L1216.8,93 L1210.5,103.4 Z" fill="#1a2a80"/>
<rect x="1325.8" y="59" width="4.5" height="35" fill="#c8102e"/><path d="M1321.7,93.8 L1334.2,93.8 L1328,103.8 Z" fill="#c8102e"/>
<rect x="691.3" y="104.70" width="708.3" height="168.40" fill="#fff" stroke="#101a48" stroke-width="2.6"/>
<rect x="690" y="103.40" width="54.3" height="171.00" fill="#1b264b"/>
<rect x="691.3" y="309.20" width="708.3" height="223.80" fill="#fff" stroke="#101a48" stroke-width="2.6"/>
<rect x="690" y="307.90" width="54.3" height="226.40" fill="#1b264b"/>
<rect x="691.3" y="564.50" width="708.3" height="458.00" fill="#fff" stroke="#101a48" stroke-width="2.6"/>
<rect x="690" y="563.20" width="54.3" height="460.60" fill="#1b264b"/>
<text transform="translate(722.5,193) rotate(-90)" font-size="20" text-anchor="middle" fill="#fff">Features</text>
<text transform="translate(710.7,422.2) rotate(-90)" font-size="20" text-anchor="middle" fill="#fff">Deep neural</text>
<text transform="translate(734,421) rotate(-90)" font-size="20" text-anchor="middle" fill="#fff">network</text>
<text transform="translate(724.7,794.5) rotate(-90)" font-size="20" text-anchor="middle" fill="#fff">Applications</text>
<line x1="1079.8" y1="274" x2="1079.8" y2="301.2" stroke="#101a48" stroke-width="2.3"/><path d="M1075,300.2 L1084.6,300.2 L1079.8,308.4 Z" fill="#101a48"/>
<line x1="1079.8" y1="534" x2="1079.8" y2="556.5" stroke="#101a48" stroke-width="2.3"/><path d="M1075,555.5 L1084.6,555.5 L1079.8,563.7 Z" fill="#101a48"/>
<text x="922.40" y="142.00" font-size="20" text-anchor="middle" fill="#231815" >Cis feature</text>
<text x="922.90" y="172.60" font-size="20" text-anchor="middle" fill="#231815" >3,392 genomic features</text>
<text x="775.80" y="190.20" font-size="15" text-anchor="start" fill="#231815" >Transcript structure/RBP binding motif/Alu...</text>
<path d="M776,199.2 H1072.5 M780.5,194.8 L775.5,199.2 L780.5,203.6 M1067.5,194.8 L1072.5,199.2 L1067.5,203.6" fill="none" stroke="#231815" stroke-width="1.4"/>
<rect x="774" y="205.9" width="301.1" height="20.6" fill="#231815"/>
<rect x="806.0" y="207.5" width="20.1" height="17.5" fill="#c8c9ca"/>
<rect x="878.5" y="207.5" width="19.4" height="17.5" fill="#c8c9ca"/>
<rect x="954.1" y="207.5" width="23.0" height="17.5" fill="#c8c9ca"/>
<rect x="1028.6" y="207.5" width="16.3" height="17.5" fill="#c8c9ca"/>
<rect x="828.2" y="207.9" width="48.2" height="16.8" fill="#9ccb58"/>
<text x="852.30" y="221.60" font-size="15" text-anchor="middle" fill="#231815" >Exon</text>
<rect x="900.0" y="207.9" width="52.0" height="16.8" fill="#ee8a62"/>
<text x="926.00" y="221.60" font-size="15" text-anchor="middle" fill="#231815" >Exon</text>
<rect x="979.2" y="207.9" width="47.3" height="16.8" fill="#8a9fcb"/>
<text x="1002.85" y="221.60" font-size="15" text-anchor="middle" fill="#231815" >Exon</text>
<path d="M827.8,226 V231 Q827.8,233.5 830.5,233.5 H1024.5 Q1027.2,233.5 1027.2,231 V226 M926.6,233.5 V240.7" fill="none" stroke="#231815" stroke-width="2"/>
<text x="929.40" y="261.80" font-size="20" text-anchor="middle" fill="#231815" >BSJ</text>
<text x="1224.70" y="142.20" font-size="20" text-anchor="middle" fill="#231815" >Trans feature</text>
<text x="1115.50" y="175.50" font-size="20" text-anchor="start" fill="#231815" >1,499 RBP expression</text>
<rect x="1123.4" y="192.2" width="143.6" height="56" fill="#fff" stroke="#000" stroke-width="2.4"/>
<rect x="1125.5" y="193.8" width="24.3" height="24.2" fill="#f5d58a"/>
<rect x="1125.5" y="222.4" width="24.3" height="23.9" fill="#c83e4e"/>
<rect x="1154.1" y="193.8" width="24.3" height="24.2" fill="#f0a55e"/>
<rect x="1154.1" y="222.4" width="24.3" height="23.9" fill="#f5d58a"/>
<rect x="1182.9" y="193.8" width="24.3" height="24.2" fill="#8e1a3e"/>
<rect x="1182.9" y="222.4" width="24.3" height="23.9" fill="#c83e4e"/>
<rect x="1211.7" y="193.8" width="24.3" height="24.2" fill="#c83e4e"/>
<rect x="1211.7" y="222.4" width="24.3" height="23.9" fill="#f8f5c8"/>
<rect x="1240.5" y="193.8" width="24.3" height="24.2" fill="#f0a55e"/>
<rect x="1240.5" y="222.4" width="24.3" height="23.9" fill="#f5d58a"/>
<text x="1275.50" y="208.00" font-size="20" text-anchor="start" fill="#231815" >Sample a</text>
<text x="1275.50" y="240.40" font-size="20" text-anchor="start" fill="#231815" >Sample b</text>
<rect x="763.5" y="334.5" width="125" height="177.5" rx="16" fill="#f2f2f2" stroke="#231815" stroke-width="2.6" stroke-dasharray="2.2 2.2"/>
<line x1="796.1999999999999" y1="363.3" x2="816.1" y2="385.1" stroke="#000" stroke-width="2"/>
<line x1="796.1999999999999" y1="363.3" x2="816.1" y2="425.3" stroke="#000" stroke-width="2"/>
<line x1="796.1999999999999" y1="403.2" x2="816.1" y2="385.1" stroke="#000" stroke-width="2"/>
<line x1="796.1999999999999" y1="403.2" x2="816.1" y2="425.3" stroke="#000" stroke-width="2"/>
<line x1="796.1999999999999" y1="403.2" x2="816.1" y2="465.8" stroke="#000" stroke-width="2"/>
<line x1="796.1999999999999" y1="443.2" x2="816.1" y2="385.1" stroke="#000" stroke-width="2"/>
<line x1="796.1999999999999" y1="443.2" x2="816.1" y2="425.3" stroke="#000" stroke-width="2"/>
<line x1="796.1999999999999" y1="443.2" x2="816.1" y2="465.8" stroke="#000" stroke-width="2"/>
<line x1="796.1999999999999" y1="484.5" x2="816.1" y2="425.3" stroke="#000" stroke-width="2"/>
<line x1="796.1999999999999" y1="484.5" x2="816.1" y2="465.8" stroke="#000" stroke-width="2"/>
<line x1="840.6999999999999" y1="385.1" x2="857.7" y2="405.4" stroke="#000" stroke-width="2"/>
<line x1="840.6999999999999" y1="385.1" x2="857.7" y2="446.4" stroke="#000" stroke-width="2"/>
<line x1="840.6999999999999" y1="425.3" x2="857.7" y2="405.4" stroke="#000" stroke-width="2"/>
<line x1="840.6999999999999" y1="425.3" x2="857.7" y2="446.4" stroke="#000" stroke-width="2"/>
<line x1="840.6999999999999" y1="465.8" x2="857.7" y2="405.4" stroke="#000" stroke-width="2"/>
<line x1="840.6999999999999" y1="465.8" x2="857.7" y2="446.4" stroke="#000" stroke-width="2"/>
<circle cx="783.9" cy="363.3" r="12.1" fill="#fff" stroke="#000" stroke-width="2.5"/>
<circle cx="783.9" cy="403.2" r="12.1" fill="#fff" stroke="#000" stroke-width="2.5"/>
<circle cx="783.9" cy="443.2" r="12.1" fill="#fff" stroke="#000" stroke-width="2.5"/>
<circle cx="783.9" cy="484.5" r="12.1" fill="#fff" stroke="#000" stroke-width="2.5"/>
<circle cx="828.4" cy="385.1" r="12.1" fill="#fff" stroke="#000" stroke-width="2.5"/>
<circle cx="828.4" cy="425.3" r="12.1" fill="#fff" stroke="#000" stroke-width="2.5"/>
<circle cx="828.4" cy="465.8" r="12.1" fill="#fff" stroke="#000" stroke-width="2.5"/>
<circle cx="870" cy="405.4" r="12.1" fill="#fff" stroke="#000" stroke-width="2.5"/>
<circle cx="870" cy="446.4" r="12.1" fill="#fff" stroke="#000" stroke-width="2.5"/>
<rect x="928.8" y="350.4" width="33.2" height="34.2" rx="3" fill="#1f3590" stroke="#000" stroke-width="2.6"/>
<circle cx="945.2" cy="367.3" r="12.1" fill="#fff" stroke="#000" stroke-width="2.5"/>
<rect x="928.8" y="402.2" width="33.2" height="119.3" rx="5" fill="#c8102e" stroke="#231815" stroke-width="2.6"/>
<circle cx="945.2" cy="424.2" r="12.1" fill="#fff" stroke="#000" stroke-width="2.5"/>
<circle cx="945.2" cy="461.5" r="12.1" fill="#fff" stroke="#000" stroke-width="2.5"/>
<circle cx="945.2" cy="498.6" r="12.1" fill="#fff" stroke="#000" stroke-width="2.5"/>
<rect x="890" y="367.4" width="27" height="4.5" fill="#1c2d8c"/><path d="M915.8,363.4 L927,369.6 L915.8,375.8 Z" fill="#1c2d8c"/>
<rect x="890" y="459.3" width="27" height="4.5" fill="#c8102e"/><path d="M915.8,455.3 L927,461.5 L915.8,467.7 Z" fill="#c8102e"/>
<text x="971.20" y="335.30" font-size="20" text-anchor="start" fill="#231815" >Probability</text>
<text x="970.40" y="375.20" font-size="20" text-anchor="start" fill="#231815" >Diff. spliced</text>
<text x="970.00" y="429.90" font-size="20" text-anchor="start" fill="#231815" >Unchanged</text>
<text x="972.30" y="470.40" font-size="20" text-anchor="start" fill="#231815" >Higher in a</text>
<text x="972.30" y="507.10" font-size="20" text-anchor="start" fill="#231815" >Higher in b</text>
<text x="1111.70" y="356.10" font-size="20" text-anchor="start" fill="#231815" >Sample a</text>
<text x="1218.70" y="356.10" font-size="20" text-anchor="start" fill="#231815" >vs.</text>
<text x="1260.60" y="356.10" font-size="20" text-anchor="start" fill="#231815" >Sample b</text>
<path d="M1143.80,425.04 A19.3,19.3 0 0 0 1109.40,425.04 L1115.64,428.22 A12.3,12.3 0 0 1 1137.56,428.22 Z" fill="#ee8a62" stroke="#231815" stroke-width="1.8" stroke-linejoin="round"/>
<path d="M1109.40,425.04 A19.3,19.3 0 0 0 1126.60,453.10 L1126.60,446.10 A12.3,12.3 0 0 1 1115.64,428.22 Z" fill="#9cc95a" stroke="#231815" stroke-width="1.8" stroke-linejoin="round"/>
<path d="M1126.60,453.10 A19.3,19.3 0 0 0 1143.80,425.04 L1137.56,428.22 A12.3,12.3 0 0 1 1126.60,446.10 Z" fill="#8a9fcb" stroke="#231815" stroke-width="1.8" stroke-linejoin="round"/>
<path d="M1187.10,397.14 A19.3,19.3 0 0 0 1152.70,397.14 L1158.94,400.32 A12.3,12.3 0 0 1 1180.86,400.32 Z" fill="#ee8a62" stroke="#231815" stroke-width="1.8" stroke-linejoin="round"/>
<path d="M1152.70,397.14 A19.3,19.3 0 0 0 1169.90,425.20 L1169.90,418.20 A12.3,12.3 0 0 1 1158.94,400.32 Z" fill="#9cc95a" stroke="#231815" stroke-width="1.8" stroke-linejoin="round"/>
<path d="M1169.90,425.20 A19.3,19.3 0 0 0 1187.10,397.14 L1180.86,400.32 A12.3,12.3 0 0 1 1169.90,418.20 Z" fill="#8a9fcb" stroke="#231815" stroke-width="1.8" stroke-linejoin="round"/>
<path d="M1204.70,444.54 A19.3,19.3 0 0 0 1170.30,444.54 L1176.54,447.72 A12.3,12.3 0 0 1 1198.46,447.72 Z" fill="#ee8a62" stroke="#231815" stroke-width="1.8" stroke-linejoin="round"/>
<path d="M1170.30,444.54 A19.3,19.3 0 0 0 1187.50,472.60 L1187.50,465.60 A12.3,12.3 0 0 1 1176.54,447.72 Z" fill="#9cc95a" stroke="#231815" stroke-width="1.8" stroke-linejoin="round"/>
<path d="M1187.50,472.60 A19.3,19.3 0 0 0 1204.70,444.54 L1198.46,447.72 A12.3,12.3 0 0 1 1187.50,465.60 Z" fill="#8a9fcb" stroke="#231815" stroke-width="1.8" stroke-linejoin="round"/>
<path d="M1331.20,398.74 A19.3,19.3 0 0 0 1296.80,398.74 L1303.04,401.92 A12.3,12.3 0 0 1 1324.96,401.92 Z" fill="#ee8a62" stroke="#231815" stroke-width="1.8" stroke-linejoin="round"/>
<path d="M1296.80,398.74 A19.3,19.3 0 0 0 1314.00,426.80 L1314.00,419.80 A12.3,12.3 0 0 1 1303.04,401.92 Z" fill="#9cc95a" stroke="#231815" stroke-width="1.8" stroke-linejoin="round"/>
<path d="M1314.00,426.80 A19.3,19.3 0 0 0 1331.20,398.74 L1324.96,401.92 A12.3,12.3 0 0 1 1314.00,419.80 Z" fill="#8a9fcb" stroke="#231815" stroke-width="1.8" stroke-linejoin="round"/>
<rect x="1112.30" y="491.40" width="23.80" height="6.00" fill="#9cc95a" stroke="#231815" stroke-width="1.8"/>
<rect x="1136.10" y="491.40" width="31.10" height="6.00" fill="#8a9fcb" stroke="#231815" stroke-width="1.8"/>
<rect x="1167.20" y="491.40" width="28.50" height="6.00" fill="#ee8a62" stroke="#231815" stroke-width="1.8"/>
<rect x="1280.40" y="449.50" width="23.50" height="5.90" fill="#9cc95a" stroke="#231815" stroke-width="1.8"/>
<rect x="1303.90" y="449.50" width="31.10" height="5.90" fill="#8a9fcb" stroke="#231815" stroke-width="1.8"/>
<rect x="1335.00" y="449.50" width="28.50" height="5.90" fill="#ee8a62" stroke="#231815" stroke-width="1.8"/>
<rect x="1292.30" y="462.20" width="23.80" height="6.00" fill="#9cc95a" stroke="#231815" stroke-width="1.8"/>
<rect x="1316.10" y="462.20" width="31.20" height="6.00" fill="#8a9fcb" stroke="#231815" stroke-width="1.8"/>
<rect x="1347.30" y="462.20" width="28.40" height="6.00" fill="#ee8a62" stroke="#231815" stroke-width="1.8"/>
<rect x="1245.20" y="477.40" width="23.50" height="5.90" fill="#9cc95a" stroke="#231815" stroke-width="1.8"/>
<rect x="1268.70" y="477.40" width="31.20" height="5.90" fill="#8a9fcb" stroke="#231815" stroke-width="1.8"/>
<rect x="1299.90" y="477.40" width="28.40" height="5.90" fill="#ee8a62" stroke="#231815" stroke-width="1.8"/>
<rect x="1262.00" y="487.40" width="23.50" height="5.90" fill="#9cc95a" stroke="#231815" stroke-width="1.8"/>
<rect x="1285.50" y="487.40" width="31.20" height="5.90" fill="#8a9fcb" stroke="#231815" stroke-width="1.8"/>
<rect x="1316.70" y="487.40" width="28.70" height="5.90" fill="#ee8a62" stroke="#231815" stroke-width="1.8"/>
<rect x="1289.00" y="497.40" width="23.60" height="6.00" fill="#9cc95a" stroke="#231815" stroke-width="1.8"/>
<rect x="1312.60" y="497.40" width="31.10" height="6.00" fill="#8a9fcb" stroke="#231815" stroke-width="1.8"/>
<rect x="1343.70" y="497.40" width="28.70" height="6.00" fill="#ee8a62" stroke="#231815" stroke-width="1.8"/>
<text x="809.00" y="607.30" font-size="20" text-anchor="start" fill="#231815" >1. Improve prediction of DSC</text>
<text x="1106.20" y="598.70" font-size="20" text-anchor="start" fill="#231815" >2. Interpret importance</text>
<text x="1114.90" y="621.20" font-size="20" text-anchor="start" fill="#231815" >of features in tissues</text>
<text x="775.50" y="810.60" font-size="20" text-anchor="start" fill="#231815" >3. Predict DSC</text>
<text x="797.40" y="834.50" font-size="20" text-anchor="start" fill="#231815" >in poly(A) data</text>
<text x="935.20" y="810.60" font-size="20" text-anchor="start" fill="#231815" >4. Predict DSC between</text>
<text x="957.80" y="834.20" font-size="20" text-anchor="start" fill="#231815" >scRNA-seq clusters</text>
<text x="1160.60" y="810.50" font-size="20" text-anchor="start" fill="#231815" >5. Inference of circRNA</text>
<text x="1183.10" y="834.30" font-size="20" text-anchor="start" fill="#231815" >distribution in ST</text>
<path d="M828.9,755.6 V642.9 M827.8,755.6 H944.6" stroke="#231815" stroke-width="2.2" fill="none"/>
<path d="M822.9,643.4 L828.9,632.9 L834.9,643.4 Z M944.1,749.6 L954.6,755.6 L944.1,761.6 Z" fill="#231815"/>
<path d="M829.5,755 C834,730 840,705 850.6,688.3 C858,676 866,670 875,665.5 C893,657.5 915,654.5 946,654.3" fill="none" stroke="#0a62b0" stroke-width="2.2"/>
<path d="M829.5,755 C838,738 848,722 858,707 C866,695 876,684 890,673.5 C905,662.5 925,658 946,654.3" fill="none" stroke="#2ea2e0" stroke-width="2.2"/>
<line x1="870.4" y1="689.6" x2="870.4" y2="674" stroke="#231815" stroke-width="1.6"/><path d="M866.8,676.2 L870.4,669 L874,676.2 Z" fill="#231815"/>
<text x="855.90" y="646.80" font-size="20" text-anchor="start" fill="#231815" >model</text>
<text x="868.40" y="735.80" font-size="20" text-anchor="start" fill="#231815" >AUROC</text>
<circle cx="956.2" cy="663.3" r="2.7" fill="#231815"/><circle cx="956.2" cy="705.7" r="2.7" fill="#231815"/>
<text x="967.50" y="669.60" font-size="20" text-anchor="start" fill="#231815" >Low depth</text>
<text x="967.50" y="717.30" font-size="20" text-anchor="start" fill="#231815" >Without</text>
<text x="967.50" y="741.40" font-size="20" text-anchor="start" fill="#231815" >replication</text>
<path d="M1127.4,736.5 V643.8 M1126.3000000000002,736.5 H1306.0" stroke="#231815" stroke-width="2.2" fill="none"/>
<path d="M1121.2,644.3 L1127.4,634.3 L1133.6000000000001,644.3 Z M1305.5,730.3 L1315.5,736.5 L1305.5,742.7 Z" fill="#231815"/>
<text transform="translate(1111,689) rotate(-90)" font-size="20" text-anchor="middle" fill="#231815">Enhanced IG</text>
<path d="M1144.2,647.7 C1144.6000000000001,664.95 1145.1000000000001,678.75 1147.92,696.0 C1151.175,707.0400000000001 1153.5,711.5250000000001 1153.5,716.7 C1153.5,721.75 1145.7,725.3 1144.2,726.8 C1142.7,725.3 1134.9,721.75 1134.9,716.7 C1134.9,711.5250000000001 1137.2250000000001,707.0400000000001 1140.48,696.0 C1143.3,678.75 1143.8,664.95 1144.2,647.7 Z" fill="#a9c9e2" stroke="#1f6fb0" stroke-width="1.5" stroke-linejoin="round"/>
<ellipse cx="1144.2" cy="706.6" rx="1.6500000000000001" ry="1.1" fill="#1f6fb0"/>
<path d="M1164,678 C1164.4,688.725 1164.9,697.3050000000001 1167.68,708.03 C1170.9,714.894 1173.2,717.6825 1173.2,720.9 C1173.2,723.8499999999999 1165.5,725.3 1164,726.8 C1162.5,725.3 1154.8,723.8499999999999 1154.8,720.9 C1154.8,717.6825 1157.1,714.894 1160.32,708.03 C1163.1,697.3050000000001 1163.6,688.725 1164,678 Z" fill="#f4b3b3" stroke="#c8102e" stroke-width="1.5" stroke-linejoin="round"/>
<ellipse cx="1164" cy="714.2" rx="1.7999999999999998" ry="1.2" fill="#c8102e"/>
<path d="M1188.5,699 C1188.9,705.0225 1189.4,709.8405 1192.14,714.987 C1195.325,718.1406 1197.6,719.42175 1197.6,720.9 C1197.6,723.45 1190.0,724.5 1188.5,726 C1187.0,724.5 1179.4,723.45 1179.4,720.9 C1179.4,719.42175 1181.675,718.1406 1184.86,714.987 C1187.6,709.8405 1188.1,705.0225 1188.5,699 Z" fill="#a9c9e2" stroke="#1f6fb0" stroke-width="1.5" stroke-linejoin="round"/>
<ellipse cx="1188.5" cy="718.4" rx="1.6500000000000001" ry="1.1" fill="#1f6fb0"/>
<path d="M1205.8,659.5 C1206.2,673.8 1206.7,685.24 1209.48,699.5400000000001 C1212.7,708.692 1215.0,712.4100000000001 1215.0,716.7 C1215.0,721.1500000000001 1207.3,724.1 1205.8,725.6 C1204.3,724.1 1196.6,721.1500000000001 1196.6,716.7 C1196.6,712.4100000000001 1198.8999999999999,708.692 1202.12,699.5400000000001 C1204.8999999999999,685.24 1205.3999999999999,673.8 1205.8,659.5 Z" fill="#f4b3b3" stroke="#c8102e" stroke-width="1.5" stroke-linejoin="round"/>
<ellipse cx="1205.8" cy="708.3" rx="2.55" ry="1.7" fill="#c8102e"/>
<path d="M1232.7,709.1 C1233.1000000000001,713.06 1233.6000000000001,716.228 1236.38,719.132 C1239.6000000000001,720.8216 1241.9,721.5079999999999 1241.9,722.3 C1241.9,725.0 1234.2,726.2 1232.7,727.7 C1231.2,726.2 1223.5,725.0 1223.5,722.3 C1223.5,721.5079999999999 1225.8,720.8216 1229.02,719.132 C1231.8,716.228 1232.3,713.06 1232.7,709.1 Z" fill="#a9c9e2" stroke="#1f6fb0" stroke-width="1.5" stroke-linejoin="round"/>
<ellipse cx="1232.7" cy="722.3" rx="1.6500000000000001" ry="1.1" fill="#1f6fb0"/>
<path d="M1252.1,689 C1252.5,696.865 1253.0,703.157 1255.74,709.878 C1258.925,713.9964 1261.1999999999998,715.6695 1261.1999999999998,717.6 C1261.1999999999998,722.45 1253.6,725.8 1252.1,727.3 C1250.6,725.8 1243.0,722.45 1243.0,717.6 C1243.0,715.6695 1245.2749999999999,713.9964 1248.4599999999998,709.878 C1251.1999999999998,703.157 1251.6999999999998,696.865 1252.1,689 Z" fill="#f4b3b3" stroke="#c8102e" stroke-width="1.5" stroke-linejoin="round"/>
<ellipse cx="1252.1" cy="716.7" rx="2.7" ry="1.8" fill="#c8102e"/>
<path d="M1280.2,709.1 C1280.6000000000001,714.4200000000001 1281.1000000000001,718.676 1283.8400000000001,721.564 C1287.025,723.0232 1289.3,723.616 1289.3,724.3 C1289.3,725.55 1281.7,725.3 1280.2,726.8 C1278.7,725.3 1271.1000000000001,725.55 1271.1000000000001,724.3 C1271.1000000000001,723.616 1273.375,723.0232 1276.56,721.564 C1279.3,718.676 1279.8,714.4200000000001 1280.2,709.1 Z" fill="#a9c9e2" stroke="#1f6fb0" stroke-width="1.5" stroke-linejoin="round"/>
<ellipse cx="1280.2" cy="724.3" rx="1.2000000000000002" ry="0.8" fill="#1f6fb0"/>
<path d="M1297.3,717.2 C1297.7,720.105 1298.2,722.429 1300.94,724.006 C1304.125,724.8028 1306.3999999999999,725.1265 1306.3999999999999,725.5 C1306.3999999999999,726.15 1298.8,725.3 1297.3,726.8 C1295.8,725.3 1288.2,726.15 1288.2,725.5 C1288.2,725.1265 1290.475,724.8028 1293.6599999999999,724.006 C1296.3999999999999,722.429 1296.8999999999999,720.105 1297.3,717.2 Z" fill="#f4b3b3" stroke="#c8102e" stroke-width="1.5" stroke-linejoin="round"/>
<ellipse cx="1297.3" cy="725.5" rx="0.8999999999999999" ry="0.6" fill="#c8102e"/>
<path d="M1136,760 C1133,753 1137,745 1144,744.5 C1148,741.5 1155,742 1158,745 C1164,744.5 1169,749 1168.5,755 C1171,759 1170,765 1166,767.5 C1164,771 1160,772 1157,770.5 L1156.5,774 L1153.5,774 L1153.5,770 C1150,770.5 1146,769 1144,766 C1139,766.5 1136,764 1136,760 Z" fill="#f4a9a6" stroke="#8c8c8c" stroke-width="2.3" stroke-linejoin="round"/>
<path d="M1141,755 L1145,753 M1148,748.5 L1148.5,752 M1152,757 L1156,759.5 M1159,751 L1162,753 M1145,760.5 L1149,761 M1158,763 L1162,764.5" stroke="#8c8c8c" stroke-width="1.6" stroke-linecap="round"/>
<path d="M1191,741.5 L1190.5,745 C1191,748 1196,750 1198,752 C1201,756 1199,762 1196,766 C1193,769 1187,770 1187,773 C1187,776 1190,775.5 1193,773.5 C1198,771 1205,772 1210,768 C1216,763 1217,752 1214,747 C1211,742 1205,742 1203,744 C1201,746.5 1198,745.5 1196,743.5 L1195.5,741.5 Z" fill="#a6c0e0" stroke="#8c8c8c" stroke-width="2.3" stroke-linejoin="round"/>
<path d="M1240.5,754.2 C1237.2,756.5 1236.2,760.5 1236.8,764.5 C1237.8,769 1242.5,773 1246.2,774.2 C1250.2,771.6 1255.3,767 1256.5,762.2 C1257.3,758.6 1256.4,755.4 1254.6,753.6 C1252,752.2 1249.5,752.4 1248.2,753.4 C1246,752.6 1243,752.8 1240.5,754.2 Z" fill="#c3e0bc" stroke="#8c8c8c" stroke-width="2.3" stroke-linejoin="round"/>
<path d="M1247.5,753.5 C1247.6,750 1248,746.5 1249.3,743.8 C1250.6,742.2 1253.4,742.6 1254.2,744.6 M1242.2,753.2 C1241,751.5 1239.2,750.8 1237.8,751.4 M1251.8,752.4 C1252.8,750.6 1254.6,749.2 1257.4,749.6" fill="none" stroke="#8c8c8c" stroke-width="2.3" stroke-linecap="round"/>
<path d="M1276.3,768.6 C1273.5,764 1274.5,755.5 1279,752.5 C1283,750 1289,749.3 1294,749.3 C1298,747.5 1305,746.5 1309.5,747 C1312,747.5 1312,750 1310.5,751.5 C1307.5,755 1304,758 1301,760.1 C1299,761.5 1296,761.5 1294.5,761.5 C1292,763.5 1288,766 1284.5,769 C1282,771 1278.5,771.5 1276.3,768.6 Z M1294,749.6 C1292.8,753 1292.8,757.5 1294.5,761.3" fill="#d9c4e0" stroke="#8c8c8c" stroke-width="2.3" stroke-linejoin="round"/>
<path d="M821.7,957 V867.7 M820.6,957 H905.2" stroke="#231815" stroke-width="2.2" fill="none"/>
<path d="M815.9000000000001,868.2 L821.7,858.2 L827.5,868.2 Z M904.7,951.2 L914.7,957 L904.7,962.8 Z" fill="#231815"/>
<rect x="840.4" y="871.1" width="23.8" height="85.9" fill="#8a9fcb" stroke="#231815" stroke-width="1.8"/>
<rect x="864.2" y="919.2" width="24.1" height="37.8" fill="#ee8a62" stroke="#231815" stroke-width="1.8"/>
<text transform="translate(814.4,906.9) rotate(-90)" font-size="20" text-anchor="middle" fill="#231815">#DSC</text>
<text transform="translate(860.8,973.8) rotate(-45)" font-size="18.5" text-anchor="end" fill="#231815">down</text>
<text transform="translate(886.2,972.6) rotate(-45)" font-size="18.5" text-anchor="end" fill="#231815">up</text>
<path d="M960.6,932.3 V864.0 M959.5,932.3 H1024.6" stroke="#231815" stroke-width="2.2" fill="none"/>
<path d="M954.8000000000001,864.5 L960.6,854 L966.4,864.5 Z M1024.1,926.5 L1034.6,932.3 L1024.1,938.0999999999999 Z" fill="#231815"/>
<path d="M993.90,869.20 C994.18,867.55 997.72,864.17 1000.10,862.90 C1002.48,861.63 1005.35,861.15 1008.20,861.60 C1011.05,862.05 1014.97,863.58 1017.20,865.60 C1019.43,867.62 1021.02,871.02 1021.60,873.70 C1022.18,876.38 1021.88,879.32 1020.70,881.70 C1019.52,884.08 1016.13,887.55 1014.50,888.00 C1012.87,888.45 1012.40,886.20 1010.90,884.40 C1009.40,882.60 1007.58,879.13 1005.50,877.20 C1003.42,875.27 1000.33,874.13 998.40,872.80 C996.47,871.47 993.62,870.85 993.90,869.20 Z" fill="#ee8a62" stroke="#231815" stroke-width="1.8"/>
<path d="M988.50,883.50 C987.77,882.15 982.43,881.85 979.60,882.60 C976.77,883.35 973.45,885.32 971.50,888.00 C969.55,890.68 967.90,894.97 967.90,898.70 C967.90,902.43 969.55,907.42 971.50,910.40 C973.45,913.38 976.77,915.57 979.60,916.60 C982.43,917.63 987.77,917.78 988.50,916.60 C989.23,915.42 985.05,912.48 984.00,909.50 C982.95,906.52 982.20,901.83 982.20,898.70 C982.20,895.57 982.95,893.23 984.00,890.70 C985.05,888.17 989.23,884.85 988.50,883.50 Z" fill="#9cc958" stroke="#231815" stroke-width="1.8"/>
<path d="M992.10,900.50 C993.00,898.42 995.27,893.77 997.50,891.60 C999.73,889.43 1003.57,887.20 1005.50,887.50 C1007.43,887.80 1007.15,891.68 1009.10,893.40 C1011.05,895.12 1014.37,896.17 1017.20,897.80 C1020.03,899.43 1025.52,901.85 1026.10,903.20 C1026.68,904.55 1022.33,904.55 1020.70,905.90 C1019.07,907.25 1017.78,909.07 1016.30,911.30 C1014.82,913.53 1013.75,917.97 1011.80,919.30 C1009.85,920.63 1006.55,920.33 1004.60,919.30 C1002.65,918.27 1001.58,915.18 1000.10,913.10 C998.62,911.02 997.03,908.30 995.70,906.80 C994.37,905.30 992.70,905.15 992.10,904.10 C991.50,903.05 991.20,902.58 992.10,900.50 Z" fill="#8a9fcb" stroke="#231815" stroke-width="1.8"/>
<path d="M1060.8,934.3 V866.6 M1059.7,934.3 H1126.2" stroke="#231815" stroke-width="2.2" fill="none"/>
<path d="M1055.0,867.1 L1060.8,856.6 L1066.6,867.1 Z M1125.7,928.5 L1136.2,934.3 L1125.7,940.0999999999999 Z" fill="#231815"/>
<path d="M1094.30,871.40 C1094.58,869.75 1098.12,866.37 1100.50,865.10 C1102.88,863.83 1105.75,863.35 1108.60,863.80 C1111.45,864.25 1115.37,865.78 1117.60,867.80 C1119.83,869.82 1121.42,873.22 1122.00,875.90 C1122.58,878.58 1122.28,881.52 1121.10,883.90 C1119.92,886.28 1116.53,889.75 1114.90,890.20 C1113.27,890.65 1112.80,888.40 1111.30,886.60 C1109.80,884.80 1107.98,881.33 1105.90,879.40 C1103.82,877.47 1100.73,876.33 1098.80,875.00 C1096.87,873.67 1094.02,873.05 1094.30,871.40 Z" fill="#ee8a62" stroke="#231815" stroke-width="1.8"/>
<path d="M1088.90,885.70 C1088.17,884.35 1082.83,884.05 1080.00,884.80 C1077.17,885.55 1073.85,887.52 1071.90,890.20 C1069.95,892.88 1068.30,897.17 1068.30,900.90 C1068.30,904.63 1069.95,909.62 1071.90,912.60 C1073.85,915.58 1077.17,917.77 1080.00,918.80 C1082.83,919.83 1088.17,919.98 1088.90,918.80 C1089.63,917.62 1085.45,914.68 1084.40,911.70 C1083.35,908.72 1082.60,904.03 1082.60,900.90 C1082.60,897.77 1083.35,895.43 1084.40,892.90 C1085.45,890.37 1089.63,887.05 1088.90,885.70 Z" fill="#9cc958" stroke="#231815" stroke-width="1.8"/>
<path d="M1092.50,902.70 C1093.40,900.62 1095.67,895.97 1097.90,893.80 C1100.13,891.63 1103.97,889.40 1105.90,889.70 C1107.83,890.00 1107.55,893.88 1109.50,895.60 C1111.45,897.32 1114.77,898.37 1117.60,900.00 C1120.43,901.63 1125.92,904.05 1126.50,905.40 C1127.08,906.75 1122.73,906.75 1121.10,908.10 C1119.47,909.45 1118.18,911.27 1116.70,913.50 C1115.22,915.73 1114.15,920.17 1112.20,921.50 C1110.25,922.83 1106.95,922.53 1105.00,921.50 C1103.05,920.47 1101.98,917.38 1100.50,915.30 C1099.02,913.22 1097.43,910.50 1096.10,909.00 C1094.77,907.50 1093.10,907.35 1092.50,906.30 C1091.90,905.25 1091.60,904.78 1092.50,902.70 Z" fill="#8a9fcb" stroke="#231815" stroke-width="1.8"/>
<text x="966.10" y="867.80" font-size="20" text-anchor="start" fill="#231815" >T</text>
<text x="1072.60" y="868.40" font-size="20" text-anchor="start" fill="#231815" >N</text>
<rect x="1013" y="952.6" width="32" height="14.5" fill="#c30d23"/><rect x="1045" y="967.1" width="66" height="14.8" fill="#1a2888"/>
<path d="M1013,952.6 H1111 V981.9 H1013 Z M1013,967.1 H1111 M1045,952.6 V981.9 M1078.5,952.6 V981.9" fill="none" stroke="#231815" stroke-width="2.4"/>
<text x="1006.90" y="961.50" font-size="20" text-anchor="end" fill="#231815" >Tumor</text>
<text x="1005.60" y="981.70" font-size="20" text-anchor="end" fill="#231815" >Normal</text>
<text x="1026.50" y="1003.10" font-size="20" text-anchor="start" fill="#231815" >circRNA</text>
<circle cx="1196.2" cy="875.5" r="4.2" fill="#b0182a"/>
<circle cx="1235" cy="875.5" r="4.2" fill="#c84020"/>
<circle cx="1190.5" cy="886.2" r="4.2" fill="#b0182a"/>
<circle cx="1202" cy="886.2" r="4.2" fill="#b0182a"/>
<circle cx="1228.9" cy="886.2" r="4.2" fill="#c84020"/>
<circle cx="1240.5" cy="886.2" r="4.2" fill="#c85a24"/>
<circle cx="1182.3" cy="898.2" r="4.2" fill="#c86424"/>
<circle cx="1196.9" cy="898.2" r="4.2" fill="#c8102e"/>
<circle cx="1208.2" cy="898.2" r="4.2" fill="#c8102e"/>
<circle cx="1220.4" cy="898.2" r="4.2" fill="#d4cc1a"/>
<circle cx="1232" cy="898.2" r="4.2" fill="#c85a24"/>
<circle cx="1247.6" cy="898.6" r="4.2" fill="#c85a24"/>
<circle cx="1188.7" cy="909.9" r="4.2" fill="#c86424"/>
<circle cx="1203" cy="908.8" r="4.2" fill="#c8102e"/>
<circle cx="1215" cy="908.8" r="4.2" fill="#c8102e"/>
<circle cx="1226.8" cy="908.8" r="4.2" fill="#d4cc1a"/>
<circle cx="1239.3" cy="910.4" r="4.2" fill="#c85a24"/>
<circle cx="1195" cy="920.6" r="4.2" fill="#d4c81c"/>
<circle cx="1209.6" cy="919.4" r="4.2" fill="#d4c81c"/>
<circle cx="1220.9" cy="919.4" r="4.2" fill="#d4c81c"/>
<circle cx="1234.1" cy="921.3" r="4.2" fill="#d4c81c"/>
<circle cx="1201.1" cy="931.2" r="4.2" fill="#d0cca8"/>
<circle cx="1215" cy="928.6" r="4.2" fill="#d0cca8"/>
<circle cx="1228" cy="931.6" r="4.2" fill="#d0cca8"/>
<circle cx="1207" cy="940.6" r="4.2" fill="#d0cca8"/>
<circle cx="1222.4" cy="941" r="4.2" fill="#d0cca8"/>
<circle cx="1215" cy="950.5" r="4.2" fill="#d0cca8"/>
<circle cx="1298" cy="873" r="4.4" fill="#d0b890"/>
<circle cx="1339.3" cy="873" r="4.4" fill="#d0b890"/>
<circle cx="1291.9" cy="884.3" r="4.4" fill="#d4b41c"/>
<circle cx="1304.1" cy="884.3" r="4.4" fill="#d4b41c"/>
<circle cx="1332.7" cy="884.3" r="4.4" fill="#d4b41c"/>
<circle cx="1344.9" cy="884.3" r="4.4" fill="#d4b41c"/>
<circle cx="1352.6" cy="892.5" r="4.4" fill="#d4801c"/>
<circle cx="1283.2" cy="896.8" r="4.4" fill="#c8701e"/>
<circle cx="1298.6" cy="896.8" r="4.4" fill="#c8701e"/>
<circle cx="1310.8" cy="896.8" r="4.4" fill="#c8701e"/>
<circle cx="1323.7" cy="896.8" r="4.4" fill="#c84c20"/>
<circle cx="1336" cy="896.8" r="4.4" fill="#d0801e"/>
<circle cx="1289.8" cy="909.5" r="4.4" fill="#c8701e"/>
<circle cx="1305.3" cy="908.3" r="4.4" fill="#c8701e"/>
<circle cx="1318.3" cy="908.3" r="4.4" fill="#c8701e"/>
<circle cx="1330.5" cy="908.3" r="4.4" fill="#c84c20"/>
<circle cx="1343.7" cy="910.1" r="4.4" fill="#d0801e"/>
<circle cx="1296.6" cy="920.8" r="4.4" fill="#c8102e"/>
<circle cx="1312.2" cy="919.4" r="4.4" fill="#c8102e"/>
<circle cx="1324.5" cy="919.4" r="4.4" fill="#c8102e"/>
<circle cx="1338" cy="921.4" r="4.4" fill="#c84c20"/>
<circle cx="1303.5" cy="932.1" r="4.4" fill="#c8102e"/>
<circle cx="1318.3" cy="929.5" r="4.4" fill="#c8102e"/>
<circle cx="1331.9" cy="932.6" r="4.4" fill="#c8102e"/>
<circle cx="1309.6" cy="942.2" r="4.4" fill="#b0182a"/>
<circle cx="1325.8" cy="942.6" r="4.4" fill="#b0182a"/>
<circle cx="1318.3" cy="952.8" r="4.4" fill="#b0182a"/>
<text x="1195.00" y="982.60" font-size="20" text-anchor="start" fill="#231815" >circA</text>
<text x="1300.20" y="982.60" font-size="20" text-anchor="start" fill="#231815" >circB</text>
</svg>
</body></html>
